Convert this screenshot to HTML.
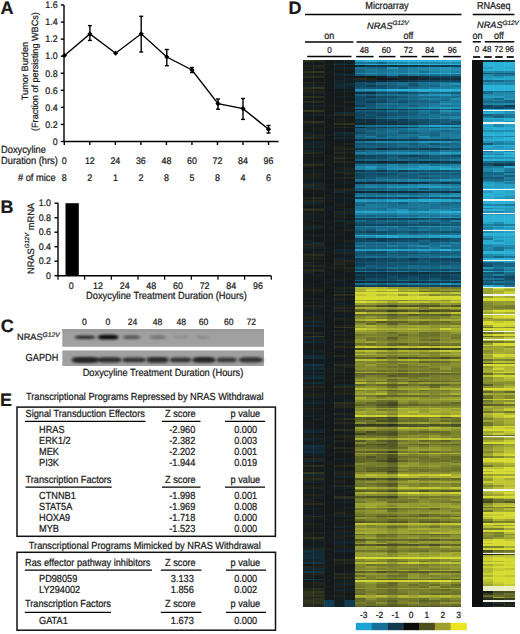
<!DOCTYPE html>
<html><head><meta charset="utf-8"><style>
html,body{margin:0;padding:0;background:#fff;width:520px;height:634px;overflow:hidden}
#hm div{position:absolute;top:60.0px;height:547.00px}
#hm .sp{width:0.6px;background:rgba(255,255,255,0.06)}
svg{position:absolute;left:0;top:0}
text{text-rendering:geometricPrecision;font-family:"Liberation Sans",sans-serif;fill:#1a1a1a;stroke:#1a1a1a;stroke-width:0.22px}
</style></head><body>
<div id="hm">
<div style="left:303.00px;width:11.00px;background:linear-gradient(#2c301d 0 1.8px,#141a1d 0 3.6px,#141b1d 0 5.4px,#1e221b 0 7.2px,#151919 0 9.0px,#1b1f1a 0 10.8px,#2f331d 0 12.6px,#191d1a 0 14.4px,#1e221b 0 16.2px,#282c1c 0 18.0px,#141b1e 0 19.8px,#141819 0 21.6px,#272b1c 0 23.4px,#1a1e1a 0 25.2px,#131f25 0 27.0px,#2a2e1d 0 28.8px,#1e221b 0 30.6px,#20241b 0 32.4px,#1d211b 0 34.2px,#141a1d 0 36.0px,#2a2e1d 0 37.8px,#1a1e1a 0 39.6px,#141a1c 0 41.4px,#2a2e1d 0 43.2px,#14191a 0 45.0px,#132228 0 46.8px,#171b1a 0 48.6px,#1b1f1a 0 50.4px,#32361e 0 52.2px,#171b19 0 54.0px,#131f24 0 55.8px,#131c20 0 57.6px,#141c1f 0 59.4px,#171b19 0 61.2px,#2b2f1d 0 63.0px,#1d211a 0 64.8px,#131c20 0 66.6px,#191d1a 0 68.4px,#1a1e1a 0 70.2px,#161a19 0 72.0px,#132026 0 73.8px,#1f231b 0 75.6px,#122731 0 77.4px,#2a2e1d 0 79.2px,#141a1c 0 81.0px,#13222a 0 82.8px,#13232a 0 84.6px,#1a1e1a 0 86.4px,#12262f 0 88.2px,#181c1a 0 90.0px,#13242b 0 91.8px,#25291c 0 93.6px,#151919 0 95.4px,#181c1a 0 97.2px,#171b19 0 99.0px,#161a19 0 100.8px,#131d20 0 102.6px,#1c201a 0 104.4px,#2d311d 0 106.2px,#1b1f1a 0 108.0px,#141819 0 109.8px,#131c20 0 111.6px,#14191b 0 113.4px,#1d211a 0 115.2px,#1f231b 0 117.0px,#1d211b 0 118.8px,#131e23 0 120.6px,#161a19 0 122.4px,#13232b 0 124.2px,#272b1c 0 126.0px,#122a36 0 127.8px,#1d211a 0 129.6px,#141819 0 131.4px,#14191b 0 133.2px,#141819 0 136.8px,#21251b 0 138.6px,#131d20 0 140.4px,#21251b 0 142.2px,#12262f 0 144.0px,#131e23 0 145.8px,#141819 0 147.6px,#22261b 0 149.4px,#2f331e 0 151.2px,#14191a 0 153.0px,#1d211a 0 154.8px,#131e22 0 156.6px,#132229 0 158.4px,#131f24 0 160.2px,#171b19 0 162.0px,#171b1a 0 163.8px,#141b1d 0 165.6px,#1e221b 0 167.4px,#12252e 0 169.2px,#171b1a 0 171.0px,#14191a 0 172.8px,#131e23 0 174.6px,#1c201a 0 176.4px,#131d21 0 178.2px,#141c1f 0 180.0px,#132229 0 181.8px,#12252e 0 183.6px,#282c1c 0 185.4px,#1f231b 0 187.2px,#13232b 0 189.0px,#131c20 0 190.8px,#14191b 0 192.6px,#1e221b 0 194.4px,#262a1c 0 196.2px,#1d211a 0 198.0px,#1f231b 0 199.8px,#181c1a 0 201.6px,#262a1c 0 203.4px,#132128 0 205.2px,#22261b 0 207.0px,#14191b 0 208.8px,#272b1c 0 210.6px,#20241b 0 212.4px,#1f231b 0 214.2px,#131c20 0 216.0px,#171b1a 0 217.8px,#141a1d 0 219.6px,#141819 0 223.2px,#161a19 0 225.0px,#131c20 0 227.0px,#1b1f1a 0 228.8px,#20241b 0 230.6px,#1c201a 0 232.4px,#161a19 0 234.2px,#141b1e 0 236.0px,#141a1d 0 237.8px,#132025 0 239.6px,#151919 0 241.4px,#181c1a 0 243.2px,#151919 0 245.0px,#23271c 0 246.8px,#131e23 0 248.6px,#14191b 0 250.4px,#131c20 0 252.2px,#131e23 0 254.0px,#131f24 0 255.8px,#1c201a 0 257.6px,#1e221b 0 259.4px,#181c1a 0 261.2px,#122730 0 263.0px,#191d1a 0 264.8px,#122a36 0 266.6px,#141b1e 0 268.4px,#1c201a 0 270.2px,#131d22 0 272.0px,#25291c 0 273.8px,#141819 0 275.6px,#2e321d 0 277.4px,#12242d 0 279.2px,#181c1a 0 281.0px,#122a36 0 282.8px,#141b1e 0 284.6px,#141819 0 286.4px,#141b1e 0 288.2px,#181c1a 0 290.0px,#132026 0 291.8px,#141c1f 0 293.6px,#131f25 0 295.4px,#122c39 0 297.2px,#112d3a 0 299.0px,#141819 0 300.8px,#131c20 0 302.6px,#191d1a 0 304.4px,#113343 0 306.2px,#12242d 0 308.0px,#122730 0 309.8px,#132025 0 311.6px,#122935 0 313.4px,#141b1e 0 315.2px,#12262f 0 317.0px,#112f3d 0 318.8px,#161a19 0 320.6px,#141b1e 0 322.4px,#122934 0 324.2px,#141b1e 0 326.0px,#22261b 0 327.8px,#1d211a 0 329.6px,#171b1a 0 331.4px,#141a1d 0 333.2px,#1c201a 0 335.0px,#1e221b 0 336.8px,#131f24 0 338.6px,#141819 0 340.4px,#132127 0 342.2px,#12242d 0 344.0px,#131d21 0 345.8px,#191d1a 0 347.6px,#21251b 0 349.4px,#1a1e1a 0 351.2px,#181c1a 0 353.0px,#141a1c 0 354.8px,#12252d 0 356.6px,#141819 0 358.4px,#141a1c 0 360.2px,#141a1b 0 362.0px,#1a1e1a 0 363.8px,#141b1e 0 365.6px,#14181a 0 367.4px,#141b1d 0 369.2px,#13232a 0 371.0px,#122a36 0 372.8px,#131d21 0 374.6px,#1d211b 0 376.4px,#191d1a 0 378.2px,#122731 0 380.0px,#132228 0 381.8px,#141a1c 0 383.6px,#161a19 0 385.4px,#113445 0 387.2px,#112f3d 0 389.0px,#12252d 0 390.8px,#112e3c 0 392.6px,#132228 0 394.4px,#131f25 0 396.2px,#151919 0 398.0px,#21251b 0 399.8px,#122731 0 401.6px,#131c20 0 403.4px,#191d1a 0 405.2px,#2a2e1d 0 407.0px,#131c20 0 408.8px,#1d211b 0 410.6px,#14191a 0 412.4px,#363a1f 0 414.2px,#13242c 0 416.0px,#1f231b 0 417.8px,#262a1c 0 419.6px,#22261b 0 421.4px,#12262f 0 423.2px,#141a1d 0 425.0px,#1b1f1a 0 426.8px,#1f231b 0 428.6px,#141a1c 0 430.4px,#131f24 0 432.2px,#161a19 0 434.0px,#21251b 0 435.8px,#181c1a 0 437.6px,#132229 0 439.4px,#1e221b 0 441.2px,#1d211b 0 443.0px,#262a1c 0 444.8px,#141b1d 0 446.6px,#151919 0 448.4px,#132026 0 450.2px,#14191a 0 452.0px,#141819 0 453.8px,#132127 0 455.6px,#23271c 0 457.4px,#1b1f1a 0 459.2px,#132127 0 461.0px,#171b1a 0 462.8px,#20241b 0 464.6px,#141b1d 0 466.4px,#1b1f1a 0 468.2px,#161a19 0 470.0px,#171b19 0 471.8px,#1b1f1a 0 473.6px,#1e221b 0 475.4px,#1a1e1a 0 477.2px,#2b2f1d 0 479.0px,#191d1a 0 480.8px,#131c20 0 482.6px,#141a1d 0 484.4px,#161a19 0 486.2px,#132127 0 488.0px,#20241b 0 489.8px,#113243 0 491.6px,#112d3a 0 493.4px,#122a36 0 495.2px,#112d3a 0 497.0px,#112e3b 0 498.8px,#122630 0 500.6px,#1c201a 0 502.4px,#103547 0 504.2px,#141819 0 506.0px,#24281c 0 507.8px,#122934 0 509.6px,#1e221b 0 511.4px,#10384c 0 513.2px,#1d211b 0 515.0px,#1b1f1a 0 516.8px,#131c20 0 518.6px,#103a4f 0 520.4px,#141b1e 0 522.2px,#1b1f1a 0 524.0px,#191d1a 0 525.8px,#181c1a 0 527.6px,#25291c 0 529.4px,#24281c 0 531.2px,#33371e 0 533.0px,#31351e 0 534.8px,#2d311d 0 536.6px,#22261b 0 538.4px,#2b2f1d 0 540.2px,#33371e 0 542.0px,#2e321d 0 543.8px,#282c1c 0 545.6px,#272b1c 0 547.0px)"></div>
<div style="left:313.40px;width:11.00px;background:linear-gradient(#22261b 0 1.8px,#151919 0 3.6px,#141b1e 0 5.4px,#262a1c 0 7.2px,#1e221b 0 9.0px,#151919 0 10.8px,#32361e 0 12.6px,#151919 0 14.4px,#1a1e1a 0 16.2px,#282c1c 0 18.0px,#14181a 0 19.8px,#161a19 0 21.6px,#22261b 0 23.4px,#181c1a 0 25.2px,#132229 0 27.0px,#31351e 0 28.8px,#1b1f1a 0 30.6px,#21251b 0 32.4px,#20241b 0 34.2px,#131c20 0 36.0px,#282c1c 0 37.8px,#141819 0 39.6px,#1a1e1a 0 41.4px,#282c1c 0 43.2px,#151919 0 45.0px,#12262e 0 46.8px,#171b1a 0 48.6px,#1a1e1a 0 50.4px,#2f331e 0 52.2px,#1a1e1a 0 54.0px,#13242c 0 55.8px,#14191a 0 59.4px,#14191b 0 61.2px,#2d311d 0 63.0px,#1a1e1a 0 64.8px,#14191b 0 66.6px,#1a1e1a 0 68.4px,#1b1f1a 0 70.2px,#1a1e1a 0 72.0px,#131d21 0 73.8px,#21251b 0 75.6px,#12262f 0 77.4px,#21251b 0 79.2px,#141a1b 0 81.0px,#122630 0 82.8px,#132127 0 84.6px,#1d211b 0 86.4px,#12252d 0 88.2px,#141c1f 0 90.0px,#132025 0 91.8px,#23271b 0 93.6px,#131e23 0 95.4px,#1a1e1a 0 97.2px,#14191b 0 99.0px,#151919 0 100.8px,#131f23 0 102.6px,#1d211a 0 104.4px,#272b1c 0 106.2px,#161a19 0 109.8px,#131f24 0 111.6px,#1a1e1a 0 113.4px,#1f231b 0 115.2px,#1c201a 0 117.0px,#1b1f1a 0 118.8px,#131d20 0 120.6px,#14181a 0 122.4px,#12252d 0 124.2px,#21251b 0 126.0px,#122732 0 127.8px,#21251b 0 129.6px,#141a1d 0 131.4px,#141b1d 0 133.2px,#161a19 0 135.0px,#14191a 0 136.8px,#25291c 0 138.6px,#131e23 0 140.4px,#23271b 0 142.2px,#12262f 0 144.0px,#131f24 0 145.8px,#14191b 0 147.6px,#22261b 0 149.4px,#282c1c 0 151.2px,#171b19 0 153.0px,#181c1a 0 154.8px,#141c1f 0 156.6px,#131e23 0 158.4px,#141b1e 0 160.2px,#1a1e1a 0 162.0px,#151919 0 163.8px,#131e22 0 165.6px,#23271b 0 167.4px,#13232b 0 169.2px,#161a19 0 171.0px,#141819 0 172.8px,#131d20 0 174.6px,#21251b 0 176.4px,#131e23 0 178.2px,#14191b 0 180.0px,#141819 0 181.8px,#122b37 0 183.6px,#24281c 0 185.4px,#21251b 0 187.2px,#132026 0 189.0px,#141a1c 0 190.8px,#132128 0 192.6px,#1d211a 0 194.4px,#282c1c 0 196.2px,#1a1e1a 0 198.0px,#1c201a 0 199.8px,#161a19 0 201.6px,#1d211b 0 203.4px,#141a1c 0 205.2px,#24281c 0 207.0px,#141b1d 0 208.8px,#292d1d 0 210.6px,#24281c 0 212.4px,#141a1c 0 214.2px,#132026 0 216.0px,#191d1a 0 217.8px,#181c1a 0 219.6px,#141b1e 0 221.4px,#14191b 0 223.2px,#161a19 0 225.0px,#14191b 0 227.0px,#191d1a 0 228.8px,#20241b 0 230.6px,#1e221b 0 232.4px,#171b19 0 234.2px,#131e23 0 236.0px,#141819 0 237.8px,#131f24 0 239.6px,#141a1c 0 241.4px,#1a1e1a 0 243.2px,#131d21 0 245.0px,#21251b 0 246.8px,#132127 0 248.6px,#191d1a 0 250.4px,#131f24 0 252.2px,#131d21 0 254.0px,#13222a 0 255.8px,#1c201a 0 257.6px,#1e221b 0 259.4px,#1b1f1a 0 261.2px,#122934 0 263.0px,#181c1a 0 264.8px,#122934 0 266.6px,#141b1e 0 268.4px,#141819 0 270.2px,#141b1e 0 272.0px,#21251b 0 273.8px,#1a1e1a 0 275.6px,#363a1f 0 277.4px,#12252d 0 279.2px,#1b1f1a 0 281.0px,#122731 0 282.8px,#131e22 0 284.6px,#171b1a 0 286.4px,#161a19 0 288.2px,#181c1a 0 290.0px,#132128 0 291.8px,#131e22 0 295.4px,#122b38 0 297.2px,#122c38 0 299.0px,#141c1f 0 300.8px,#131d21 0 302.6px,#151919 0 304.4px,#113343 0 306.2px,#13242c 0 308.0px,#122832 0 309.8px,#131d21 0 311.6px,#112d3a 0 313.4px,#131f25 0 315.2px,#122731 0 317.0px,#113140 0 318.8px,#191d1a 0 320.6px,#131d21 0 322.4px,#112f3d 0 324.2px,#131f25 0 326.0px,#23271b 0 327.8px,#171b1a 0 329.6px,#1c201a 0 331.4px,#151919 0 333.2px,#1c201a 0 335.0px,#1d211b 0 336.8px,#131f24 0 338.6px,#141819 0 340.4px,#132025 0 342.2px,#13242c 0 344.0px,#141c1f 0 345.8px,#161a19 0 347.6px,#1e221b 0 349.4px,#171b1a 0 353.0px,#141b1e 0 354.8px,#131f23 0 356.6px,#141819 0 358.4px,#1c201a 0 360.2px,#14191a 0 362.0px,#141819 0 363.8px,#131d21 0 365.6px,#141819 0 367.4px,#131d21 0 369.2px,#13232b 0 371.0px,#122731 0 372.8px,#141819 0 374.6px,#1e221b 0 376.4px,#1a1e1a 0 378.2px,#122630 0 380.0px,#131f24 0 381.8px,#1b1f1a 0 383.6px,#181c1a 0 385.4px,#113242 0 387.2px,#122832 0 389.0px,#122731 0 390.8px,#112d3b 0 392.6px,#13242b 0 394.4px,#132026 0 396.2px,#181c1a 0 398.0px,#22261b 0 399.8px,#122832 0 401.6px,#141a1b 0 403.4px,#151919 0 405.2px,#2b2f1d 0 407.0px,#141b1d 0 408.8px,#181c1a 0 410.6px,#14191b 0 412.4px,#2e321d 0 414.2px,#122832 0 416.0px,#1d211a 0 417.8px,#282c1c 0 419.6px,#21251b 0 421.4px,#132128 0 423.2px,#14191b 0 425.0px,#1b1f1a 0 426.8px,#23271c 0 428.6px,#132025 0 430.4px,#141c1f 0 432.2px,#131c20 0 434.0px,#21251b 0 435.8px,#1b1f1a 0 437.6px,#12252e 0 439.4px,#14191b 0 441.2px,#191d1a 0 443.0px,#25291c 0 444.8px,#151919 0 446.6px,#14181a 0 448.4px,#132228 0 450.2px,#161a19 0 452.0px,#131d21 0 453.8px,#131f24 0 455.6px,#282c1c 0 457.4px,#1a1e1a 0 459.2px,#141c1f 0 461.0px,#14191b 0 462.8px,#1b1f1a 0 464.6px,#141c1f 0 466.4px,#181c1a 0 468.2px,#131d21 0 470.0px,#151919 0 471.8px,#1d211a 0 473.6px,#14191b 0 475.4px,#171b1a 0 477.2px,#2f331e 0 479.0px,#1b1f1a 0 480.8px,#131f24 0 482.6px,#131e22 0 484.4px,#131d21 0 486.2px,#132127 0 488.0px,#24281c 0 489.8px,#112d3a 0 491.6px,#122832 0 493.4px,#122a36 0 495.2px,#122a35 0 497.0px,#122b37 0 498.8px,#122730 0 500.6px,#22261b 0 502.4px,#103749 0 504.2px,#1a1e1a 0 506.0px,#1f231b 0 507.8px,#122832 0 509.6px,#1d211a 0 511.4px,#103547 0 513.2px,#22261b 0 515.0px,#1a1e1a 0 516.8px,#141a1d 0 518.6px,#103548 0 520.4px,#131e22 0 522.2px,#23271b 0 524.0px,#1e221b 0 525.8px,#171b1a 0 527.6px,#2d311d 0 529.4px,#262a1c 0 531.2px,#32361e 0 533.0px,#292d1c 0 534.8px,#31351e 0 536.6px,#23271b 0 538.4px,#30341e 0 540.2px,#2f331e 0 542.0px,#31351e 0 543.8px,#23271b 0 545.6px,#24281c 0 547.0px)"></div>
<div style="left:323.80px;width:11.00px;background:linear-gradient(#151919 0 1.8px,#14191a 0 3.6px,#171b1a 0 5.4px,#141a1c 0 9.0px,#14191b 0 10.8px,#141b1e 0 12.6px,#181c1a 0 14.4px,#141a1c 0 16.2px,#151919 0 18.0px,#141819 0 19.8px,#14191a 0 21.6px,#141b1e 0 23.4px,#141a1c 0 25.2px,#14191b 0 27.0px,#161a19 0 28.8px,#141819 0 30.6px,#141a1c 0 32.4px,#141b1e 0 34.2px,#151919 0 36.0px,#14191a 0 37.8px,#131d21 0 39.6px,#141819 0 41.4px,#141a1c 0 43.2px,#161a19 0 45.0px,#181c1a 0 46.8px,#14191b 0 48.6px,#141a1d 0 50.4px,#151919 0 52.2px,#14191b 0 54.0px,#191d1a 0 55.8px,#171b19 0 57.6px,#161a19 0 59.4px,#14191b 0 61.2px,#161a19 0 63.0px,#14191b 0 64.8px,#181c1a 0 66.6px,#141b1e 0 68.4px,#141819 0 70.2px,#141a1b 0 72.0px,#14191b 0 73.8px,#1b1f1a 0 75.6px,#141819 0 77.4px,#14191a 0 79.2px,#141819 0 81.0px,#171b1a 0 82.8px,#14191b 0 84.6px,#161a19 0 86.4px,#171b19 0 88.2px,#14191b 0 90.0px,#14191a 0 91.8px,#14191b 0 93.6px,#141a1d 0 95.4px,#181c1a 0 97.2px,#141a1c 0 99.0px,#191d1a 0 100.8px,#171b1a 0 102.6px,#14191b 0 104.4px,#171b19 0 106.2px,#14191b 0 109.8px,#161a19 0 111.6px,#141819 0 113.4px,#161a19 0 115.2px,#14191b 0 117.0px,#141c1f 0 118.8px,#14181a 0 120.6px,#14191b 0 122.4px,#14181a 0 124.2px,#171b19 0 126.0px,#141819 0 127.8px,#161a19 0 129.6px,#191d1a 0 131.4px,#141c1f 0 133.2px,#141b1e 0 135.0px,#171b19 0 136.8px,#131f24 0 138.6px,#141a1d 0 140.4px,#191d1a 0 142.2px,#141a1c 0 144.0px,#151919 0 145.8px,#131e23 0 147.6px,#131d21 0 151.2px,#151919 0 153.0px,#14191a 0 154.8px,#14191b 0 156.6px,#161a19 0 158.4px,#151919 0 160.2px,#171b19 0 163.8px,#141a1c 0 165.6px,#171b1a 0 167.4px,#181c1a 0 169.2px,#141a1c 0 171.0px,#141819 0 172.8px,#141c1f 0 174.6px,#131d21 0 176.4px,#161a19 0 178.2px,#14191b 0 180.0px,#141b1e 0 181.8px,#14181a 0 183.6px,#141819 0 185.4px,#151919 0 187.2px,#131d21 0 189.0px,#141a1c 0 190.8px,#181c1a 0 192.6px,#141a1c 0 194.4px,#171b19 0 196.2px,#14191b 0 198.0px,#161a19 0 199.8px,#141819 0 201.6px,#171b1a 0 203.4px,#141b1d 0 205.2px,#191d1a 0 207.0px,#1a1e1a 0 208.8px,#141a1c 0 210.6px,#191d1a 0 212.4px,#141b1d 0 214.2px,#171b1a 0 216.0px,#141819 0 217.8px,#141c1f 0 219.6px,#14191a 0 221.4px,#131e22 0 223.2px,#141a1c 0 225.0px,#141b1e 0 227.0px,#181c1a 0 228.8px,#141a1c 0 230.6px,#14191a 0 232.4px,#141819 0 234.2px,#171b19 0 236.0px,#141a1d 0 237.8px,#141a1c 0 239.6px,#131c20 0 241.4px,#161a19 0 243.2px,#141a1c 0 245.0px,#181c1a 0 246.8px,#14191b 0 248.6px,#141a1d 0 250.4px,#141c1f 0 252.2px,#151919 0 254.0px,#14191b 0 255.8px,#131d20 0 257.6px,#141b1e 0 259.4px,#141a1c 0 264.8px,#141b1e 0 266.6px,#14191a 0 268.4px,#141819 0 270.2px,#131d21 0 272.0px,#141819 0 273.8px,#14191b 0 275.6px,#14191a 0 277.4px,#141819 0 279.2px,#171b19 0 281.0px,#141a1d 0 282.8px,#141c1f 0 284.6px,#141819 0 286.4px,#141a1c 0 288.2px,#151919 0 290.0px,#141819 0 291.8px,#1a1e1a 0 293.6px,#151919 0 295.4px,#171b19 0 297.2px,#131c20 0 299.0px,#14191a 0 300.8px,#141b1e 0 302.6px,#14191a 0 304.4px,#14181a 0 306.2px,#141a1d 0 308.0px,#1a1e1a 0 309.8px,#171b19 0 311.6px,#131e22 0 313.4px,#141a1d 0 315.2px,#161a19 0 317.0px,#171b1a 0 318.8px,#141a1b 0 320.6px,#161a19 0 322.4px,#151919 0 324.2px,#141819 0 326.0px,#161a19 0 327.8px,#141819 0 329.6px,#14181a 0 331.4px,#151919 0 333.2px,#141a1c 0 335.0px,#151919 0 336.8px,#141819 0 338.6px,#141a1d 0 340.4px,#141b1e 0 342.2px,#181c1a 0 344.0px,#14191b 0 345.8px,#151919 0 347.6px,#141a1d 0 349.4px,#151919 0 351.2px,#14191a 0 353.0px,#141b1d 0 354.8px,#141c1f 0 356.6px,#171b19 0 358.4px,#14191a 0 360.2px,#141b1e 0 362.0px,#161a19 0 363.8px,#14181a 0 367.4px,#151919 0 369.2px,#1a1e1a 0 371.0px,#131d20 0 372.8px,#141a1b 0 374.6px,#141a1c 0 376.4px,#181c1a 0 380.0px,#131d21 0 381.8px,#141a1b 0 383.6px,#171b1a 0 385.4px,#181c1a 0 387.2px,#171b1a 0 389.0px,#14181a 0 390.8px,#151919 0 392.6px,#141a1c 0 394.4px,#141a1d 0 396.2px,#141819 0 399.8px,#171b1a 0 401.6px,#14181a 0 403.4px,#191d1a 0 405.2px,#141819 0 407.0px,#161a19 0 408.8px,#141b1e 0 412.4px,#14191a 0 416.0px,#151919 0 417.8px,#14191b 0 419.6px,#151919 0 423.2px,#141819 0 425.0px,#131c20 0 426.8px,#14191a 0 428.6px,#161a19 0 432.2px,#141b1e 0 434.0px,#161a19 0 435.8px,#141819 0 437.6px,#131c20 0 439.4px,#141819 0 441.2px,#161a19 0 443.0px,#14191a 0 444.8px,#161a19 0 448.4px,#14191a 0 450.2px,#161a19 0 452.0px,#141a1b 0 453.8px,#181c1a 0 455.6px,#141b1d 0 457.4px,#161a19 0 459.2px,#141b1e 0 461.0px,#161a19 0 462.8px,#141819 0 464.6px,#141b1e 0 466.4px,#141b1d 0 468.2px,#14191a 0 470.0px,#141b1d 0 471.8px,#171b1a 0 473.6px,#14181a 0 475.4px,#141b1e 0 479.0px,#161a19 0 480.8px,#141a1c 0 482.6px,#141b1e 0 484.4px,#141819 0 488.0px,#191d1a 0 489.8px,#14191a 0 491.6px,#141819 0 493.4px,#141b1e 0 495.2px,#151919 0 498.8px,#131c20 0 500.6px,#161a19 0 502.4px,#141a1c 0 504.2px,#141c1f 0 506.0px,#171b1a 0 507.8px,#141a1c 0 509.6px,#141a1d 0 511.4px,#14191a 0 513.2px,#141819 0 515.0px,#141a1d 0 516.8px,#151919 0 518.6px,#14191b 0 520.4px,#161a19 0 522.2px,#141a1b 0 524.0px,#141a1c 0 525.8px,#1a1e1a 0 527.6px,#14191b 0 529.4px,#14191a 0 531.2px,#181c1a 0 533.0px,#14191b 0 534.8px,#181c1a 0 536.6px,#151919 0 538.4px,#161a19 0 540.2px,#103d54 0 547.0px)"></div>
<div style="left:334.20px;width:11.00px;background:linear-gradient(#131e23 0 1.8px,#131f24 0 3.6px,#112f3d 0 5.4px,#171b1a 0 7.2px,#13232b 0 9.0px,#1a1e1a 0 10.8px,#14191b 0 12.6px,#122731 0 14.4px,#13242b 0 16.2px,#181c1a 0 18.0px,#131f25 0 19.8px,#12252d 0 21.6px,#132229 0 23.4px,#122833 0 25.2px,#122a36 0 27.0px,#13242c 0 28.8px,#141819 0 30.6px,#132229 0 32.4px,#161a19 0 34.2px,#14191a 0 36.0px,#131f24 0 37.8px,#151919 0 39.6px,#14191b 0 41.4px,#171b1a 0 43.2px,#141b1e 0 45.0px,#1a1e1a 0 46.8px,#141b1d 0 48.6px,#151919 0 50.4px,#161a19 0 52.2px,#122b38 0 54.0px,#262a1c 0 55.8px,#14191b 0 57.6px,#1b1f1a 0 59.4px,#1a1e1a 0 61.2px,#1b1f1a 0 63.0px,#2a2e1d 0 64.8px,#141a1c 0 66.6px,#20241b 0 68.4px,#141a1b 0 72.0px,#122832 0 73.8px,#13242c 0 75.6px,#161a19 0 77.4px,#122730 0 79.2px,#141b1e 0 81.0px,#141819 0 82.8px,#1a1e1a 0 84.6px,#131c20 0 86.4px,#1e221b 0 88.2px,#21251b 0 90.0px,#1b1f1a 0 91.8px,#24281c 0 93.6px,#141819 0 95.4px,#1a1e1a 0 97.2px,#272b1c 0 99.0px,#1a1e1a 0 100.8px,#22261b 0 102.6px,#151919 0 104.4px,#14191a 0 106.2px,#131e22 0 108.0px,#1a1e1a 0 109.8px,#132128 0 111.6px,#24281c 0 113.4px,#191d1a 0 115.2px,#141b1d 0 117.0px,#1f231b 0 118.8px,#141819 0 120.6px,#131d21 0 122.4px,#131e23 0 124.2px,#14191b 0 126.0px,#14191a 0 127.8px,#1e221b 0 129.6px,#262a1c 0 131.4px,#122b37 0 133.2px,#141a1c 0 135.0px,#141b1e 0 136.8px,#131f23 0 138.6px,#141b1d 0 142.2px,#141c1f 0 144.0px,#1c201a 0 145.8px,#171b1a 0 147.6px,#1f231b 0 149.4px,#131c20 0 151.2px,#23271b 0 153.0px,#13242b 0 154.8px,#1d211a 0 156.6px,#1b1f1a 0 158.4px,#141b1e 0 160.2px,#12262f 0 162.0px,#161a19 0 163.8px,#131f24 0 165.6px,#141c1f 0 167.4px,#141819 0 169.2px,#1a1e1a 0 171.0px,#131d21 0 172.8px,#171b19 0 174.6px,#131c20 0 176.4px,#141a1c 0 178.2px,#141a1d 0 180.0px,#181c1a 0 181.8px,#141b1e 0 183.6px,#131f24 0 187.2px,#151919 0 189.0px,#12262f 0 190.8px,#132229 0 192.6px,#22261b 0 194.4px,#131d21 0 196.2px,#141c1f 0 198.0px,#12262f 0 199.8px,#21251b 0 201.6px,#20241b 0 203.4px,#22261b 0 205.2px,#1a1e1a 0 207.0px,#1d211b 0 208.8px,#191d1a 0 210.6px,#161a19 0 212.4px,#14191b 0 214.2px,#161a19 0 216.0px,#141b1e 0 217.8px,#1b1f1a 0 219.6px,#13242b 0 221.4px,#131d20 0 223.2px,#131d21 0 227.0px,#20241b 0 228.8px,#131f24 0 230.6px,#25291c 0 232.4px,#131e23 0 234.2px,#292d1d 0 236.0px,#141a1c 0 237.8px,#1e221b 0 239.6px,#1c201a 0 241.4px,#141b1e 0 243.2px,#132228 0 245.0px,#1b1f1a 0 246.8px,#25291c 0 248.6px,#131e23 0 250.4px,#22261b 0 252.2px,#141819 0 254.0px,#141b1e 0 257.6px,#22261b 0 259.4px,#1d211b 0 261.2px,#141819 0 264.8px,#1e221b 0 266.6px,#30341e 0 268.4px,#141819 0 270.2px,#20241b 0 272.0px,#131d20 0 273.8px,#21251b 0 275.6px,#141a1c 0 277.4px,#1a1e1a 0 279.2px,#191d1a 0 281.0px,#22261b 0 282.8px,#131d21 0 284.6px,#1d211a 0 286.4px,#24281c 0 288.2px,#181c1a 0 290.0px,#141a1d 0 291.8px,#141819 0 293.6px,#161a19 0 295.4px,#24281c 0 297.2px,#141a1d 0 299.0px,#14181a 0 300.8px,#1a1e1a 0 302.6px,#161a19 0 304.4px,#282c1c 0 306.2px,#181c1a 0 308.0px,#1d211a 0 309.8px,#132228 0 311.6px,#23271b 0 313.4px,#151919 0 315.2px,#1c201a 0 317.0px,#151919 0 318.8px,#181c1a 0 320.6px,#1d211b 0 322.4px,#14191a 0 324.2px,#132128 0 326.0px,#282c1c 0 327.8px,#191d1a 0 329.6px,#1b1f1a 0 331.4px,#1c201a 0 333.2px,#20241b 0 335.0px,#141c1f 0 336.8px,#132025 0 338.6px,#141a1c 0 340.4px,#131d21 0 342.2px,#2b2f1d 0 344.0px,#24281c 0 345.8px,#23271c 0 347.6px,#1a1e1a 0 349.4px,#131c20 0 351.2px,#141a1c 0 353.0px,#23271b 0 354.8px,#131e22 0 356.6px,#14191b 0 358.4px,#24281c 0 360.2px,#191d1a 0 362.0px,#23271c 0 363.8px,#181c1a 0 365.6px,#161a19 0 367.4px,#181c1a 0 369.2px,#2b2f1d 0 371.0px,#171b19 0 372.8px,#141c1f 0 374.6px,#20241b 0 376.4px,#21251b 0 378.2px,#141819 0 380.0px,#22261b 0 381.8px,#141a1d 0 383.6px,#14191b 0 385.4px,#141b1e 0 387.2px,#262a1c 0 389.0px,#141a1c 0 390.8px,#1e221b 0 392.6px,#141a1b 0 394.4px,#171b19 0 396.2px,#141a1c 0 398.0px,#132229 0 399.8px,#14191b 0 401.6px,#141a1c 0 403.4px,#14191a 0 405.2px,#22261b 0 407.0px,#181c1a 0 408.8px,#131d21 0 410.6px,#20241b 0 414.2px,#1d211a 0 416.0px,#12262f 0 417.8px,#191d1a 0 419.6px,#1e221b 0 421.4px,#1f231b 0 423.2px,#141c1f 0 425.0px,#24281c 0 426.8px,#131f24 0 428.6px,#131e22 0 430.4px,#141819 0 432.2px,#141c1f 0 434.0px,#171b19 0 435.8px,#282c1c 0 437.6px,#262a1c 0 439.4px,#141a1d 0 441.2px,#132127 0 443.0px,#151919 0 444.8px,#141a1c 0 446.6px,#141c1f 0 448.4px,#161a19 0 450.2px,#191d1a 0 452.0px,#23271b 0 453.8px,#1d211b 0 455.6px,#12262e 0 457.4px,#14191b 0 459.2px,#191d1a 0 461.0px,#141c1f 0 464.6px,#191d1a 0 466.4px,#12262f 0 468.2px,#161a19 0 470.0px,#1d211b 0 471.8px,#132229 0 473.6px,#132026 0 475.4px,#1f231b 0 477.2px,#1d211b 0 479.0px,#131d21 0 480.8px,#13242b 0 482.6px,#13222a 0 484.4px,#132025 0 486.2px,#1c201a 0 488.0px,#131f24 0 489.8px,#12242d 0 491.6px,#131f23 0 493.4px,#141a1c 0 495.2px,#141b1e 0 497.0px,#141a1c 0 498.8px,#262a1c 0 500.6px,#132025 0 502.4px,#1e221b 0 504.2px,#191d1a 0 506.0px,#151919 0 511.4px,#141b1d 0 513.2px,#272b1c 0 515.0px,#1c201a 0 516.8px,#24281c 0 518.6px,#141a1c 0 520.4px,#132127 0 522.2px,#1c201a 0 524.0px,#13232a 0 525.8px,#1b1f1a 0 527.6px,#171b19 0 529.4px,#122630 0 531.2px,#1a1e1a 0 533.0px,#171b19 0 534.8px,#1e221b 0 536.6px,#141c1f 0 540.2px,#132026 0 547.0px)"></div>
<div style="left:344.60px;width:11.00px;background:linear-gradient(#132026 0 1.8px,#131e22 0 3.6px,#112d3b 0 5.4px,#141a1b 0 7.2px,#13242c 0 9.0px,#181c1a 0 10.8px,#14191b 0 12.6px,#12252e 0 14.4px,#122a36 0 16.2px,#151919 0 18.0px,#13242c 0 19.8px,#131f23 0 21.6px,#131e22 0 23.4px,#112e3b 0 25.2px,#122731 0 27.0px,#132229 0 28.8px,#141b1d 0 30.6px,#13242c 0 32.4px,#141a1c 0 34.2px,#14191b 0 36.0px,#131f24 0 37.8px,#14191b 0 39.6px,#141b1e 0 41.4px,#20241b 0 43.2px,#141a1c 0 45.0px,#171b19 0 46.8px,#132229 0 48.6px,#1a1e1a 0 50.4px,#191d1a 0 52.2px,#122b38 0 54.0px,#282c1c 0 55.8px,#14181a 0 57.6px,#151919 0 59.4px,#161a19 0 61.2px,#191d1a 0 63.0px,#31351e 0 64.8px,#141b1e 0 66.6px,#23271c 0 68.4px,#141b1e 0 70.2px,#151919 0 72.0px,#122c38 0 73.8px,#12262f 0 75.6px,#131d20 0 77.4px,#12252d 0 79.2px,#141c1f 0 81.0px,#151919 0 82.8px,#1d211a 0 84.6px,#141a1c 0 86.4px,#1a1e1a 0 88.2px,#21251b 0 90.0px,#181c1a 0 91.8px,#1d211b 0 93.6px,#171b19 0 95.4px,#181c1a 0 97.2px,#1f231b 0 99.0px,#141819 0 100.8px,#21251b 0 102.6px,#131d20 0 104.4px,#171b1a 0 106.2px,#131c20 0 108.0px,#1f231b 0 109.8px,#132128 0 111.6px,#22261b 0 113.4px,#21251b 0 115.2px,#131e22 0 117.0px,#23271b 0 118.8px,#141819 0 120.6px,#141c1f 0 122.4px,#131f25 0 124.2px,#141a1c 0 126.0px,#14191a 0 127.8px,#20241b 0 129.6px,#292d1d 0 131.4px,#132128 0 133.2px,#132026 0 135.0px,#151919 0 136.8px,#132025 0 138.6px,#132026 0 140.4px,#141b1e 0 142.2px,#181c1a 0 144.0px,#191d1a 0 145.8px,#14181a 0 147.6px,#1d211b 0 149.4px,#132128 0 151.2px,#1e221b 0 153.0px,#132228 0 154.8px,#151919 0 156.6px,#1f231b 0 158.4px,#14181a 0 160.2px,#12252e 0 162.0px,#1e221b 0 163.8px,#131d21 0 167.4px,#131c20 0 169.2px,#23271b 0 171.0px,#14191a 0 172.8px,#151919 0 174.6px,#131e23 0 176.4px,#151919 0 178.2px,#141b1e 0 180.0px,#20241b 0 181.8px,#131f25 0 183.6px,#132127 0 185.4px,#132229 0 187.2px,#171b19 0 189.0px,#122630 0 192.6px,#24281c 0 194.4px,#131f24 0 196.2px,#131d21 0 198.0px,#132228 0 199.8px,#24281c 0 201.6px,#1a1e1a 0 203.4px,#1d211b 0 205.2px,#161a19 0 207.0px,#23271c 0 208.8px,#191d1a 0 210.6px,#22261b 0 212.4px,#141c1f 0 214.2px,#14191a 0 216.0px,#141a1c 0 217.8px,#181c1a 0 219.6px,#141b1e 0 221.4px,#14191a 0 223.2px,#131d21 0 225.0px,#131e23 0 227.0px,#22261b 0 228.8px,#131d21 0 230.6px,#24281c 0 232.4px,#141b1d 0 234.2px,#282c1c 0 236.0px,#141b1e 0 237.8px,#1c201a 0 239.6px,#171b1a 0 241.4px,#141b1d 0 243.2px,#131e23 0 245.0px,#1c201a 0 246.8px,#1f231b 0 248.6px,#161a19 0 250.4px,#23271c 0 252.2px,#141c1f 0 255.8px,#131f24 0 257.6px,#1d211a 0 259.4px,#1b1f1a 0 263.0px,#161a19 0 264.8px,#1f231b 0 266.6px,#31351e 0 268.4px,#181c1a 0 272.0px,#132128 0 273.8px,#1c201a 0 275.6px,#151919 0 277.4px,#191d1a 0 279.2px,#1c201a 0 281.0px,#25291c 0 282.8px,#132127 0 284.6px,#141819 0 286.4px,#25291c 0 288.2px,#151919 0 290.0px,#131e22 0 291.8px,#191d1a 0 293.6px,#171b19 0 295.4px,#1e221b 0 297.2px,#141a1d 0 299.0px,#181c1a 0 300.8px,#1a1e1a 0 302.6px,#131d22 0 304.4px,#282c1c 0 306.2px,#1f231b 0 308.0px,#151919 0 309.8px,#141b1e 0 311.6px,#1c201a 0 313.4px,#141b1e 0 315.2px,#161a19 0 317.0px,#141819 0 318.8px,#191d1a 0 322.4px,#141819 0 324.2px,#122833 0 326.0px,#292d1d 0 327.8px,#1a1e1a 0 329.6px,#22261b 0 331.4px,#1c201a 0 333.2px,#24281c 0 335.0px,#141c1f 0 338.6px,#191d1a 0 340.4px,#132025 0 342.2px,#2b2f1d 0 344.0px,#20241b 0 345.8px,#25291c 0 347.6px,#151919 0 349.4px,#141c1f 0 351.2px,#141b1d 0 353.0px,#20241b 0 354.8px,#132026 0 356.6px,#141b1e 0 358.4px,#2a2e1d 0 360.2px,#181c1a 0 362.0px,#25291c 0 363.8px,#1a1e1a 0 365.6px,#1b1f1a 0 367.4px,#141a1d 0 369.2px,#292d1d 0 371.0px,#1b1f1a 0 372.8px,#131d21 0 374.6px,#24281c 0 376.4px,#21251b 0 378.2px,#1b1f1a 0 380.0px,#1e221b 0 381.8px,#141819 0 383.6px,#181c1a 0 385.4px,#141819 0 387.2px,#22261b 0 389.0px,#1a1e1a 0 390.8px,#20241b 0 392.6px,#161a19 0 394.4px,#191d1a 0 396.2px,#171b19 0 398.0px,#131c20 0 399.8px,#131e23 0 401.6px,#141c1f 0 403.4px,#1d211a 0 405.2px,#23271b 0 407.0px,#14181a 0 408.8px,#141b1e 0 410.6px,#20241b 0 412.4px,#21251b 0 414.2px,#1c201a 0 416.0px,#12262f 0 417.8px,#161a19 0 419.6px,#151919 0 421.4px,#171b1a 0 423.2px,#141819 0 425.0px,#262a1c 0 426.8px,#132228 0 428.6px,#141819 0 430.4px,#1c201a 0 432.2px,#131f23 0 434.0px,#141819 0 435.8px,#2b2f1d 0 437.6px,#2c301d 0 439.4px,#141a1d 0 441.2px,#13232a 0 443.0px,#141819 0 444.8px,#14191b 0 446.6px,#132228 0 448.4px,#191d1a 0 450.2px,#1b1f1a 0 452.0px,#181c1a 0 453.8px,#1d211b 0 455.6px,#13242c 0 457.4px,#141b1e 0 459.2px,#1e221b 0 461.0px,#14191a 0 462.8px,#14181a 0 464.6px,#1e221b 0 466.4px,#132026 0 468.2px,#141c1f 0 470.0px,#1d211a 0 471.8px,#132229 0 473.6px,#131e22 0 475.4px,#20241b 0 477.2px,#191d1a 0 479.0px,#131e23 0 480.8px,#13242c 0 482.6px,#13222a 0 484.4px,#141b1d 0 486.2px,#1c201a 0 488.0px,#132128 0 489.8px,#12262f 0 491.6px,#141b1e 0 493.4px,#141819 0 495.2px,#141a1d 0 497.0px,#131d20 0 498.8px,#25291c 0 500.6px,#132025 0 502.4px,#21251b 0 504.2px,#161a19 0 506.0px,#14191b 0 507.8px,#141c1f 0 509.6px,#14191a 0 511.4px,#132026 0 513.2px,#23271b 0 515.0px,#1e221b 0 516.8px,#24281c 0 518.6px,#141819 0 520.4px,#132229 0 522.2px,#1c201a 0 524.0px,#13242c 0 525.8px,#171b1a 0 527.6px,#1e221b 0 529.4px,#132229 0 531.2px,#181c1a 0 533.0px,#141819 0 534.8px,#171b1a 0 536.6px,#151919 0 538.4px,#141b1e 0 540.2px,#103d54 0 547.0px)"></div>
<div style="left:355.00px;width:11.23px;background:linear-gradient(#26a3c7 0 1.8px,#1a7293 0 3.6px,#259dc1 0 5.4px,#122732 0 7.2px,#1a7494 0 9.0px,#186785 0 10.8px,#176482 0 12.6px,#1f86a8 0 14.4px,#155c79 0 16.2px,#141a1c 0 18.0px,#282c1c 0 19.8px,#122833 0 21.6px,#114c66 0 23.4px,#114a64 0 25.2px,#114c66 0 27.0px,#145571 0 28.8px,#218fb1 0 30.6px,#196d8c 0 32.4px,#113343 0 34.2px,#165f7c 0 36.0px,#104761 0 37.8px,#114a65 0 39.6px,#114963 0 41.4px,#114c66 0 43.2px,#124f6b 0 45.0px,#0f3e56 0 46.8px,#186a89 0 48.6px,#122730 0 50.4px,#145874 0 52.2px,#114b65 0 54.0px,#10445d 0 55.8px,#114c66 0 57.6px,#124d67 0 59.4px,#11303f 0 61.2px,#113344 0 63.0px,#122833 0 64.8px,#186887 0 66.6px,#122c38 0 68.4px,#145975 0 70.2px,#135570 0 72.0px,#114964 0 73.8px,#176583 0 75.6px,#196d8c 0 77.4px,#176381 0 79.2px,#113446 0 81.0px,#19708f 0 82.8px,#135571 0 84.6px,#165e7c 0 86.4px,#16607e 0 88.2px,#103547 0 90.0px,#155d7a 0 91.8px,#1d80a1 0 93.6px,#176381 0 95.4px,#103b50 0 97.2px,#104660 0 99.0px,#165f7c 0 100.8px,#112d3b 0 102.6px,#114862 0 104.4px,#196c8b 0 106.2px,#1f87a9 0 108.0px,#1e83a5 0 109.8px,#10374a 0 111.6px,#165f7c 0 113.4px,#114963 0 115.2px,#104761 0 117.0px,#124d68 0 118.8px,#1a7393 0 120.6px,#16607d 0 122.4px,#122b38 0 124.2px,#196c8b 0 126.0px,#1d7c9d 0 127.8px,#145874 0 129.6px,#186786 0 131.4px,#122730 0 133.2px,#196d8c 0 135.0px,#1d7d9e 0 136.8px,#0f3f56 0 138.6px,#2396ba 0 140.4px,#259ec3 0 142.2px,#196d8d 0 144.0px,#176380 0 145.8px,#1b7797 0 147.6px,#1a7393 0 149.4px,#1d7d9e 0 151.2px,#27a6cb 0 153.0px,#1e80a1 0 154.8px,#176684 0 156.6px,#1d7c9d 0 158.4px,#104761 0 160.2px,#186b8a 0 162.0px,#12506c 0 163.8px,#114964 0 165.6px,#1b7797 0 167.4px,#186887 0 169.2px,#16617f 0 171.0px,#124d68 0 172.8px,#176482 0 174.6px,#28a9ce 0 176.4px,#1e81a3 0 178.2px,#10455e 0 180.0px,#114964 0 181.8px,#186886 0 183.6px,#155c79 0 185.4px,#1c7899 0 187.2px,#145975 0 189.0px,#249bbf 0 190.8px,#155b78 0 192.6px,#12506c 0 194.4px,#145672 0 196.2px,#186786 0 198.0px,#0f3f57 0 201.6px,#124f6a 0 203.4px,#10445e 0 205.2px,#114b66 0 207.0px,#176584 0 208.8px,#10455e 0 210.6px,#1b7898 0 212.4px,#122c39 0 214.2px,#0f4058 0 216.0px,#113140 0 217.8px,#10394e 0 219.6px,#165f7c 0 221.4px,#122a36 0 223.2px,#196f8f 0 225.0px,#103a4f 0 227.0px,#afb632 0 228.8px,#acb332 0 230.6px,#9ea632 0 232.4px,#d6dc32 0 234.2px,#bfc532 0 236.0px,#d6dc32 0 239.6px,#a4ac32 0 241.4px,#d6dc32 0 243.2px,#9aa132 0 245.0px,#5e6427 0 246.8px,#a6ad32 0 248.6px,#626728 0 250.4px,#5a5f26 0 252.2px,#c2c932 0 254.0px,#656a28 0 255.8px,#80872f 0 257.6px,#81892f 0 259.4px,#a5ad32 0 261.2px,#666b28 0 263.0px,#889031 0 264.8px,#9fa732 0 266.6px,#8c9432 0 268.4px,#c6cc32 0 270.2px,#a1a932 0 272.0px,#889031 0 273.8px,#6f752b 0 275.6px,#7e852e 0 277.4px,#7d842e 0 279.2px,#8e9632 0 281.0px,#929a32 0 282.8px,#6d732a 0 284.6px,#767d2c 0 286.4px,#c4ca32 0 288.2px,#3e4220 0 290.0px,#b3ba32 0 291.8px,#899131 0 293.6px,#b8bf32 0 295.4px,#80882f 0 297.2px,#636828 0 299.0px,#bcc332 0 300.8px,#7c832e 0 302.6px,#8c9331 0 304.4px,#848c30 0 306.2px,#80872f 0 308.0px,#889031 0 309.8px,#72782b 0 311.6px,#a4ab32 0 313.4px,#616627 0 315.2px,#666b29 0 317.0px,#7b822e 0 318.8px,#949c32 0 320.6px,#71772b 0 322.4px,#b5bc32 0 324.2px,#5e6327 0 326.0px,#838a2f 0 327.8px,#b6bd32 0 329.6px,#787e2d 0 331.4px,#929a32 0 333.2px,#9ca332 0 335.0px,#787e2d 0 336.8px,#a8b032 0 338.6px,#9da532 0 340.4px,#858d30 0 342.2px,#73792c 0 344.0px,#5d6226 0 345.8px,#79802d 0 347.6px,#929a32 0 349.4px,#858c30 0 351.2px,#a4ab32 0 353.0px,#98a032 0 354.8px,#d1d732 0 356.6px,#565b25 0 358.4px,#5d6226 0 360.2px,#676d29 0 362.0px,#899031 0 363.8px,#35391e 0 365.6px,#484c22 0 367.4px,#99a132 0 369.2px,#82892f 0 371.0px,#626728 0 372.8px,#434721 0 374.6px,#6b712a 0 376.4px,#777d2d 0 378.2px,#a7ae32 0 380.0px,#525624 0 381.8px,#838b30 0 383.6px,#5e6327 0 385.4px,#565a25 0 387.2px,#72782b 0 389.0px,#7f862e 0 390.8px,#616627 0 392.6px,#8f9732 0 394.4px,#757c2c 0 396.2px,#626728 0 398.0px,#5f6427 0 401.6px,#616727 0 403.4px,#838a2f 0 405.2px,#6f752b 0 407.0px,#71772b 0 408.8px,#6f762b 0 410.6px,#626828 0 412.4px,#7f862e 0 414.2px,#a5ad32 0 416.0px,#a6ae32 0 417.8px,#505523 0 419.6px,#6f752b 0 421.4px,#7b822e 0 423.2px,#72792b 0 425.0px,#6d732a 0 426.8px,#bbc232 0 428.6px,#7d842e 0 430.4px,#575c25 0 432.2px,#a3aa32 0 434.0px,#889031 0 435.8px,#595e26 0 437.6px,#71772b 0 439.4px,#828a2f 0 441.2px,#73792c 0 443.0px,#9aa232 0 444.8px,#929a32 0 446.6px,#9ba232 0 448.4px,#6e752b 0 450.2px,#868e30 0 452.0px,#7d842e 0 453.8px,#71772b 0 455.6px,#5c6126 0 457.4px,#909832 0 459.2px,#686e29 0 461.0px,#515524 0 462.8px,#bcc332 0 464.6px,#889031 0 466.4px,#899031 0 468.2px,#a1a832 0 470.0px,#919932 0 471.8px,#a6ae32 0 473.6px,#626728 0 475.4px,#889031 0 477.2px,#8e9632 0 479.0px,#535824 0 480.8px,#79802d 0 482.6px,#8d9532 0 484.4px,#4e5223 0 486.2px,#929a32 0 488.0px,#8e9632 0 489.8px,#6d732a 0 491.6px,#929932 0 493.4px,#979f32 0 495.2px,#969e32 0 497.0px,#d6dc32 0 498.8px,#858d30 0 500.6px,#747b2c 0 502.4px,#b0b732 0 504.2px,#81892f 0 506.0px,#80882f 0 507.8px,#81882f 0 509.6px,#979e32 0 511.4px,#595e26 0 513.2px,#8b9231 0 515.0px,#686e29 0 516.8px,#949b32 0 518.6px,#626728 0 520.4px,#d0d632 0 522.2px,#838b30 0 524.0px,#79802d 0 525.8px,#757b2c 0 527.6px,#8b9331 0 529.4px,#676d29 0 531.2px,#70762b 0 533.0px,#636828 0 534.8px,#adb432 0 536.6px,#9ba332 0 538.4px,#626828 0 540.2px,#696f29 0 542.0px,#777d2c 0 543.8px,#696f29 0 545.6px,#5a5f26 0 547.0px)"></div>
<div style="left:365.63px;width:11.23px;background:linear-gradient(#2ab2d8 0 1.8px,#1b7798 0 3.6px,#29afd4 0 5.4px,#103547 0 7.2px,#196f8f 0 9.0px,#1b7898 0 10.8px,#1a7292 0 12.6px,#249abe 0 14.4px,#186886 0 16.2px,#14191a 0 18.0px,#20241b 0 19.8px,#122a35 0 21.6px,#0f3f57 0 23.4px,#135470 0 25.2px,#0f3f57 0 27.0px,#135470 0 28.8px,#2398bb 0 30.6px,#176381 0 32.4px,#113140 0 34.2px,#155d7a 0 36.0px,#103d53 0 37.8px,#13536f 0 39.6px,#104761 0 41.4px,#0f3f56 0 43.2px,#13536f 0 45.0px,#13546f 0 46.8px,#155d7a 0 48.6px,#113445 0 50.4px,#145976 0 52.2px,#104861 0 54.0px,#13526d 0 55.8px,#114963 0 57.6px,#145672 0 59.4px,#112d3a 0 61.2px,#112f3e 0 63.0px,#112e3b 0 64.8px,#196c8b 0 66.6px,#10455e 0 68.4px,#13516c 0 70.2px,#186786 0 72.0px,#145874 0 73.8px,#155d7b 0 75.6px,#1e80a2 0 77.4px,#186987 0 79.2px,#11303f 0 81.0px,#1d7d9e 0 82.8px,#135570 0 84.6px,#145773 0 86.4px,#176583 0 88.2px,#0f3f57 0 90.0px,#186b8a 0 91.8px,#1c799a 0 93.6px,#1a7090 0 95.4px,#10445d 0 97.2px,#114963 0 99.0px,#186988 0 100.8px,#113242 0 102.6px,#0f415a 0 104.4px,#1a7393 0 106.2px,#249abe 0 108.0px,#2290b3 0 109.8px,#114862 0 111.6px,#155d7a 0 113.4px,#12506b 0 115.2px,#13536e 0 117.0px,#145874 0 118.8px,#186b8a 0 120.6px,#155b78 0 122.4px,#122c39 0 124.2px,#1b7898 0 126.0px,#2089ab 0 127.8px,#16607e 0 129.6px,#196b8a 0 131.4px,#112d3a 0 133.2px,#186886 0 135.0px,#1b7696 0 136.8px,#0f435c 0 138.6px,#208cae 0 140.4px,#249abe 0 142.2px,#186886 0 144.0px,#1d7d9e 0 145.8px,#1d7c9d 0 147.6px,#1a7292 0 149.4px,#1d7d9e 0 151.2px,#27a7cc 0 153.0px,#1d7fa1 0 154.8px,#165f7c 0 156.6px,#1d80a1 0 158.4px,#10455e 0 160.2px,#145976 0 162.0px,#145874 0 163.8px,#104660 0 165.6px,#1f85a6 0 167.4px,#176685 0 169.2px,#155a76 0 171.0px,#0f4058 0 172.8px,#16607d 0 174.6px,#27a5ca 0 176.4px,#1f87a9 0 178.2px,#103c53 0 180.0px,#114862 0 181.8px,#196c8c 0 183.6px,#16617e 0 185.4px,#186988 0 187.2px,#166280 0 189.0px,#2396ba 0 190.8px,#12506b 0 192.6px,#10445e 0 194.4px,#145874 0 196.2px,#1a7090 0 198.0px,#0f3d54 0 199.8px,#10445e 0 201.6px,#145773 0 203.4px,#114b66 0 205.2px,#16607d 0 207.0px,#155a77 0 208.8px,#10455f 0 210.6px,#1a7292 0 212.4px,#113140 0 214.2px,#0f3f58 0 216.0px,#10384c 0 217.8px,#114b65 0 219.6px,#135571 0 221.4px,#113242 0 223.2px,#1b7495 0 225.0px,#0f4058 0 227.0px,#b0b732 0 228.8px,#cfd532 0 230.6px,#bac132 0 232.4px,#d6dc32 0 234.2px,#d3d932 0 236.0px,#d6dc32 0 239.6px,#9aa132 0 241.4px,#cfd532 0 243.2px,#949c32 0 245.0px,#666c29 0 246.8px,#a5ad32 0 248.6px,#80872f 0 250.4px,#575c25 0 252.2px,#a5ad32 0 254.0px,#6a702a 0 255.8px,#939b32 0 257.6px,#81882f 0 259.4px,#b4bb32 0 261.2px,#73792c 0 263.0px,#636928 0 264.8px,#b1b832 0 266.6px,#98a032 0 268.4px,#bbc232 0 270.2px,#99a132 0 272.0px,#899131 0 273.8px,#7c832e 0 275.6px,#8b9331 0 277.4px,#71772b 0 279.2px,#6e742a 0 281.0px,#9fa632 0 282.8px,#686e29 0 284.6px,#696f29 0 286.4px,#cfd532 0 288.2px,#424621 0 290.0px,#bac132 0 291.8px,#979f32 0 293.6px,#a3ab32 0 295.4px,#838a2f 0 297.2px,#626828 0 299.0px,#b9c032 0 300.8px,#81882f 0 302.6px,#7a812d 0 304.4px,#99a032 0 306.2px,#858d30 0 308.0px,#81882f 0 309.8px,#787f2d 0 311.6px,#a4ac32 0 313.4px,#5b6026 0 315.2px,#7a812d 0 317.0px,#878e30 0 318.8px,#858d30 0 320.6px,#686e29 0 322.4px,#949b32 0 324.2px,#6f752b 0 326.0px,#8d9532 0 327.8px,#afb732 0 329.6px,#82892f 0 331.4px,#858d30 0 333.2px,#a8af32 0 335.0px,#72792b 0 336.8px,#8e9632 0 338.6px,#9fa632 0 340.4px,#858d30 0 342.2px,#5f6527 0 344.0px,#696e29 0 345.8px,#7b822d 0 347.6px,#a1a832 0 349.4px,#939b32 0 351.2px,#9aa232 0 353.0px,#8c9432 0 354.8px,#c8ce32 0 356.6px,#5b6026 0 358.4px,#515524 0 360.2px,#6c722a 0 362.0px,#6e742a 0 363.8px,#35391e 0 365.6px,#515624 0 367.4px,#9ea632 0 369.2px,#899131 0 371.0px,#484c22 0 372.8px,#575c25 0 374.6px,#6a702a 0 376.4px,#71772b 0 378.2px,#acb432 0 380.0px,#73792c 0 381.8px,#6c722a 0 383.6px,#505523 0 385.4px,#666c29 0 387.2px,#6a702a 0 389.0px,#82892f 0 390.8px,#575c25 0 392.6px,#9ba332 0 394.4px,#72782b 0 396.2px,#525624 0 398.0px,#5e6327 0 399.8px,#626828 0 401.6px,#777e2d 0 403.4px,#7a802d 0 405.2px,#737a2c 0 407.0px,#606627 0 408.8px,#626728 0 410.6px,#535824 0 412.4px,#868d30 0 414.2px,#bbc232 0 416.0px,#a5ac32 0 417.8px,#454921 0 419.6px,#6d732a 0 421.4px,#8a9231 0 423.2px,#6b712a 0 425.0px,#797f2d 0 426.8px,#acb332 0 428.6px,#777e2d 0 430.4px,#5f6427 0 432.2px,#b4bb32 0 434.0px,#858c30 0 435.8px,#525624 0 437.6px,#81882f 0 439.4px,#82892f 0 441.2px,#878f30 0 443.0px,#a1a932 0 444.8px,#9fa732 0 446.6px,#abb332 0 448.4px,#7d842e 0 450.2px,#8e9632 0 452.0px,#8c9432 0 453.8px,#79802d 0 455.6px,#72782b 0 457.4px,#878e30 0 459.2px,#757c2c 0 461.0px,#5b6026 0 462.8px,#b9c032 0 464.6px,#777e2d 0 466.4px,#838a2f 0 468.2px,#a0a832 0 470.0px,#9ba232 0 471.8px,#a8af32 0 473.6px,#777e2d 0 475.4px,#8a9131 0 477.2px,#a2a932 0 479.0px,#646a28 0 480.8px,#9ea632 0 484.4px,#585d25 0 486.2px,#919932 0 488.0px,#8d9532 0 489.8px,#72792b 0 491.6px,#8f9732 0 493.4px,#9ca432 0 495.2px,#939b32 0 497.0px,#d6dc32 0 498.8px,#959d32 0 500.6px,#6f752b 0 502.4px,#c1c732 0 504.2px,#6e752b 0 506.0px,#949c32 0 507.8px,#878e30 0 509.6px,#a3ab32 0 511.4px,#666c29 0 513.2px,#929a32 0 515.0px,#7d842e 0 516.8px,#7a802d 0 518.6px,#72782b 0 520.4px,#d0d632 0 522.2px,#919932 0 524.0px,#81882f 0 525.8px,#828a2f 0 527.6px,#8a9231 0 529.4px,#7d852e 0 531.2px,#767c2c 0 533.0px,#80872f 0 534.8px,#9fa632 0 536.6px,#a7af32 0 538.4px,#878f30 0 540.2px,#757c2c 0 542.0px,#696f29 0 543.8px,#6b712a 0 545.6px,#434721 0 547.0px)"></div>
<div style="left:376.26px;width:11.23px;background:linear-gradient(#28aad0 0 1.8px,#176685 0 3.6px,#27a7cc 0 5.4px,#113242 0 7.2px,#186886 0 9.0px,#1a7393 0 10.8px,#1b7696 0 12.6px,#1d80a1 0 14.4px,#186988 0 16.2px,#13232b 0 18.0px,#141819 0 19.8px,#122a36 0 21.6px,#165f7d 0 23.4px,#186785 0 25.2px,#124e69 0 27.0px,#12506b 0 28.8px,#26a3c8 0 30.6px,#1a7393 0 32.4px,#104761 0 34.2px,#196d8c 0 36.0px,#124d68 0 37.8px,#145571 0 39.6px,#124e69 0 41.4px,#114a65 0 43.2px,#196e8d 0 45.0px,#176482 0 46.8px,#196e8e 0 48.6px,#112d3b 0 50.4px,#155e7b 0 52.2px,#124e69 0 54.0px,#10435d 0 55.8px,#145672 0 57.6px,#16617e 0 59.4px,#0f3e56 0 61.2px,#103a4f 0 63.0px,#10384b 0 64.8px,#1b7697 0 66.6px,#103b50 0 68.4px,#16617f 0 70.2px,#176684 0 72.0px,#186886 0 73.8px,#16607d 0 75.6px,#145976 0 77.4px,#196e8e 0 79.2px,#103547 0 81.0px,#2089ab 0 82.8px,#155a76 0 84.6px,#145874 0 86.4px,#166280 0 88.2px,#112d3b 0 90.0px,#186988 0 91.8px,#1f88aa 0 93.6px,#176482 0 95.4px,#114b66 0 97.2px,#124f6a 0 99.0px,#176381 0 100.8px,#122732 0 102.6px,#10455e 0 104.4px,#196e8d 0 106.2px,#1e82a3 0 108.0px,#1b7596 0 109.8px,#103b51 0 111.6px,#176684 0 113.4px,#114862 0 115.2px,#13526d 0 117.0px,#176685 0 118.8px,#1c7999 0 120.6px,#155d7a 0 122.4px,#113141 0 124.2px,#1a7090 0 126.0px,#1e80a2 0 127.8px,#176482 0 129.6px,#186a89 0 131.4px,#122934 0 133.2px,#186785 0 135.0px,#1d7fa0 0 136.8px,#104660 0 138.6px,#218eb1 0 140.4px,#2293b6 0 142.2px,#196d8c 0 144.0px,#1c799a 0 145.8px,#1c7c9d 0 147.6px,#186b8a 0 149.4px,#1b7797 0 151.2px,#26a3c8 0 153.0px,#1c7a9b 0 154.8px,#186887 0 156.6px,#1f84a6 0 158.4px,#103c53 0 160.2px,#176685 0 162.0px,#155d7a 0 163.8px,#114863 0 165.6px,#1f86a8 0 167.4px,#196d8c 0 169.2px,#1c7899 0 171.0px,#114862 0 172.8px,#155c79 0 174.6px,#2ab0d6 0 176.4px,#2499bd 0 178.2px,#0f3d54 0 180.0px,#0f3e56 0 181.8px,#1a7191 0 183.6px,#155c79 0 185.4px,#196e8e 0 187.2px,#166280 0 189.0px,#259ec3 0 190.8px,#124d67 0 192.6px,#12506b 0 194.4px,#145773 0 196.2px,#196e8e 0 198.0px,#0f425c 0 199.8px,#114a65 0 201.6px,#13526e 0 203.4px,#135470 0 205.2px,#145672 0 207.0px,#16617f 0 208.8px,#0f3e55 0 210.6px,#186887 0 212.4px,#113040 0 214.2px,#0f3d54 0 216.0px,#103b50 0 217.8px,#104761 0 219.6px,#155c79 0 221.4px,#113344 0 223.2px,#176583 0 225.0px,#103c52 0 227.0px,#b0b732 0 228.8px,#cad032 0 230.6px,#9ba332 0 232.4px,#d6dc32 0 234.2px,#b6bc32 0 236.0px,#d6dc32 0 239.6px,#8b9331 0 241.4px,#c0c732 0 243.2px,#888f31 0 245.0px,#4c5123 0 246.8px,#9ba332 0 248.6px,#72792c 0 250.4px,#5a5f26 0 252.2px,#a8af32 0 254.0px,#686e29 0 255.8px,#858d30 0 257.6px,#757b2c 0 259.4px,#bfc632 0 261.2px,#525624 0 263.0px,#767d2c 0 264.8px,#99a032 0 266.6px,#949c32 0 268.4px,#a9b032 0 270.2px,#8f9732 0 272.0px,#7c822e 0 273.8px,#777e2d 0 275.6px,#828a2f 0 277.4px,#787f2d 0 279.2px,#777e2d 0 281.0px,#889031 0 282.8px,#7b822e 0 284.6px,#70762b 0 286.4px,#bcc232 0 288.2px,#3f4320 0 290.0px,#aeb632 0 291.8px,#7b822e 0 293.6px,#a2a932 0 295.4px,#8a9131 0 297.2px,#505523 0 299.0px,#aab132 0 300.8px,#72792b 0 302.6px,#8f9732 0 304.4px,#7c832e 0 306.2px,#7b822e 0 308.0px,#838b2f 0 309.8px,#6c722a 0 311.6px,#949c32 0 313.4px,#5f6427 0 315.2px,#73792c 0 317.0px,#7e852e 0 318.8px,#899131 0 320.6px,#6f752b 0 322.4px,#aab132 0 324.2px,#656a28 0 326.0px,#889031 0 327.8px,#a0a832 0 329.6px,#73792c 0 331.4px,#929a32 0 333.2px,#b3ba32 0 335.0px,#626728 0 336.8px,#81882f 0 338.6px,#a3aa32 0 340.4px,#6c722a 0 342.2px,#5e6327 0 344.0px,#505423 0 345.8px,#676d29 0 347.6px,#949c32 0 349.4px,#73792c 0 351.2px,#a1a932 0 353.0px,#8b9331 0 354.8px,#cfd532 0 356.6px,#474b21 0 358.4px,#5c6126 0 360.2px,#494d22 0 362.0px,#7d842e 0 363.8px,#373b1f 0 365.6px,#494d22 0 367.4px,#8d9532 0 369.2px,#787e2d 0 371.0px,#5a5f26 0 372.8px,#525724 0 374.6px,#616627 0 376.4px,#7a802d 0 378.2px,#9fa632 0 380.0px,#5a5f26 0 381.8px,#70762b 0 383.6px,#444821 0 385.4px,#5c6126 0 387.2px,#666b28 0 389.0px,#7f872f 0 390.8px,#555a25 0 392.6px,#888f31 0 394.4px,#636828 0 398.0px,#606627 0 399.8px,#4c5023 0 401.6px,#757c2c 0 403.4px,#71772b 0 405.2px,#7a812d 0 407.0px,#5e6327 0 408.8px,#5b6026 0 410.6px,#595e26 0 412.4px,#858c30 0 414.2px,#afb632 0 416.0px,#a3aa32 0 417.8px,#545924 0 419.6px,#79802d 0 421.4px,#828a2f 0 423.2px,#616627 0 425.0px,#6a702a 0 426.8px,#a0a732 0 428.6px,#7c832e 0 430.4px,#5a5f26 0 432.2px,#a6ad32 0 434.0px,#858c30 0 435.8px,#505423 0 437.6px,#777e2d 0 439.4px,#6e742a 0 441.2px,#8d9532 0 443.0px,#9fa632 0 444.8px,#919932 0 446.6px,#9aa232 0 448.4px,#747b2c 0 450.2px,#929a32 0 452.0px,#8b9331 0 453.8px,#6a702a 0 455.6px,#595e26 0 457.4px,#767d2c 0 459.2px,#737a2c 0 461.0px,#626728 0 462.8px,#b2b932 0 464.6px,#8a9231 0 466.4px,#828a2f 0 468.2px,#939a32 0 470.0px,#9ba232 0 471.8px,#9ca432 0 473.6px,#656b28 0 475.4px,#6d732a 0 477.2px,#858d30 0 479.0px,#636928 0 480.8px,#7b812d 0 482.6px,#a3aa32 0 484.4px,#494d22 0 486.2px,#9aa232 0 488.0px,#858d30 0 489.8px,#6e742a 0 491.6px,#8d9432 0 493.4px,#a2aa32 0 495.2px,#939b32 0 497.0px,#d6dc32 0 498.8px,#848c30 0 500.6px,#7d842e 0 502.4px,#bbc232 0 504.2px,#6f762b 0 506.0px,#899131 0 507.8px,#7b822e 0 509.6px,#9fa732 0 511.4px,#4c5022 0 513.2px,#8e9632 0 515.0px,#7e852e 0 516.8px,#8b9231 0 518.6px,#555a25 0 520.4px,#cfd632 0 522.2px,#7d842e 0 524.0px,#6c722a 0 525.8px,#686d29 0 527.6px,#8c9432 0 529.4px,#71782b 0 531.2px,#757b2c 0 533.0px,#696f29 0 534.8px,#b3ba32 0 536.6px,#9aa232 0 538.4px,#73792c 0 540.2px,#6d742a 0 542.0px,#868e30 0 543.8px,#6c722a 0 545.6px,#4b4f22 0 547.0px)"></div>
<div style="left:386.89px;width:11.23px;background:linear-gradient(#2ab2d8 0 1.8px,#1e81a2 0 3.6px,#28aacf 0 5.4px,#113140 0 7.2px,#2293b7 0 9.0px,#1c7a9b 0 10.8px,#1d7e9f 0 12.6px,#208bae 0 14.4px,#1d7c9d 0 16.2px,#10374a 0 18.0px,#14191b 0 19.8px,#10374a 0 21.6px,#176381 0 23.4px,#176584 0 25.2px,#155b77 0 27.0px,#155d7a 0 28.8px,#2ab2d8 0 30.6px,#1d7c9d 0 32.4px,#12506b 0 34.2px,#1a7090 0 36.0px,#12506b 0 37.8px,#165f7c 0 39.6px,#176380 0 41.4px,#145874 0 43.2px,#1a7292 0 45.0px,#176584 0 46.8px,#196f8f 0 48.6px,#0f3e55 0 50.4px,#196e8e 0 52.2px,#145874 0 54.0px,#13516c 0 55.8px,#176482 0 57.6px,#196c8b 0 59.4px,#114963 0 61.2px,#103648 0 63.0px,#113546 0 64.8px,#1c7b9c 0 66.6px,#104761 0 68.4px,#186a89 0 70.2px,#1b7494 0 72.0px,#196c8c 0 73.8px,#186a89 0 75.6px,#1b7797 0 77.4px,#196f8f 0 79.2px,#103c53 0 81.0px,#1f86a8 0 82.8px,#165f7d 0 84.6px,#176280 0 86.4px,#16617e 0 88.2px,#0f3f56 0 90.0px,#1a7292 0 91.8px,#218eb1 0 93.6px,#1a7190 0 95.4px,#145571 0 97.2px,#16617f 0 99.0px,#176481 0 100.8px,#113140 0 102.6px,#10455e 0 104.4px,#1f86a8 0 106.2px,#218caf 0 108.0px,#2293b6 0 109.8px,#13526d 0 111.6px,#186887 0 113.4px,#12506c 0 115.2px,#155c78 0 117.0px,#16617e 0 118.8px,#1d7e9f 0 120.6px,#196d8c 0 122.4px,#113546 0 124.2px,#1c7b9c 0 126.0px,#2291b4 0 127.8px,#196c8c 0 129.6px,#1a7191 0 131.4px,#113040 0 133.2px,#186b8a 0 135.0px,#1e83a5 0 136.8px,#124e69 0 138.6px,#2293b6 0 140.4px,#26a3c8 0 142.2px,#196c8b 0 144.0px,#1a7292 0 145.8px,#19708f 0 147.6px,#1d7d9e 0 149.4px,#2088aa 0 151.2px,#259fc3 0 153.0px,#1d7e9f 0 154.8px,#186786 0 156.6px,#1f87a9 0 158.4px,#0f435c 0 160.2px,#196f8e 0 162.0px,#145672 0 163.8px,#104660 0 165.6px,#208cae 0 167.4px,#196e8e 0 169.2px,#186785 0 171.0px,#13536f 0 172.8px,#176482 0 174.6px,#28acd1 0 176.4px,#27a5ca 0 178.2px,#0f435c 0 180.0px,#114a64 0 181.8px,#196c8b 0 183.6px,#16607e 0 185.4px,#1d80a1 0 187.2px,#166280 0 189.0px,#27a6cb 0 190.8px,#176583 0 192.6px,#13536f 0 194.4px,#176482 0 196.2px,#196c8b 0 198.0px,#114963 0 199.8px,#10455f 0 201.6px,#16617f 0 203.4px,#145773 0 205.2px,#145672 0 207.0px,#196f8f 0 208.8px,#114c66 0 210.6px,#1b7494 0 212.4px,#103547 0 214.2px,#0f435c 0 216.0px,#114b66 0 217.8px,#114963 0 219.6px,#13526e 0 221.4px,#10384b 0 223.2px,#1a7292 0 225.0px,#0f3f57 0 227.0px,#9aa132 0 228.8px,#cfd632 0 230.6px,#a5ac32 0 232.4px,#d6dc32 0 234.2px,#c2c932 0 236.0px,#d6dc32 0 239.6px,#899031 0 241.4px,#a7ae32 0 243.2px,#79802d 0 245.0px,#404420 0 246.8px,#909832 0 248.6px,#72792c 0 250.4px,#3c4020 0 252.2px,#98a032 0 254.0px,#555925 0 255.8px,#6c722a 0 257.6px,#6a7029 0 259.4px,#8f9732 0 261.2px,#585d25 0 263.0px,#585c25 0 264.8px,#888f31 0 266.6px,#8a9231 0 268.4px,#a5ac32 0 270.2px,#8f9732 0 272.0px,#6a702a 0 273.8px,#777e2d 0 275.6px,#757b2c 0 277.4px,#575b25 0 279.2px,#6c712a 0 281.0px,#7f862e 0 282.8px,#5f6427 0 284.6px,#585d25 0 286.4px,#b5bb32 0 288.2px,#35391e 0 290.0px,#949c32 0 291.8px,#7a812d 0 293.6px,#949c32 0 295.4px,#71782b 0 297.2px,#5f6427 0 299.0px,#8f9732 0 300.8px,#6a702a 0 302.6px,#787e2d 0 304.4px,#7f862e 0 306.2px,#6c722a 0 308.0px,#7d842e 0 309.8px,#6e742b 0 311.6px,#8e9632 0 313.4px,#616627 0 315.2px,#585c25 0 317.0px,#7d842e 0 318.8px,#666c29 0 320.6px,#656b28 0 322.4px,#82892f 0 324.2px,#545824 0 326.0px,#6a702a 0 327.8px,#8f9732 0 329.6px,#5c6126 0 331.4px,#71772b 0 333.2px,#7e852e 0 335.0px,#5f6427 0 336.8px,#909832 0 338.6px,#979f32 0 340.4px,#666c29 0 342.2px,#4b4f22 0 344.0px,#424621 0 345.8px,#5d6327 0 347.6px,#919932 0 349.4px,#79802d 0 351.2px,#8f9732 0 353.0px,#80872f 0 354.8px,#aab132 0 356.6px,#404420 0 358.4px,#484c22 0 360.2px,#454921 0 362.0px,#70762b 0 363.8px,#2b2f1d 0 365.6px,#444821 0 367.4px,#868d30 0 369.2px,#72782b 0 371.0px,#505423 0 372.8px,#4a4e22 0 374.6px,#555a25 0 376.4px,#6c722a 0 378.2px,#909832 0 380.0px,#4d5123 0 381.8px,#565b25 0 383.6px,#505423 0 385.4px,#535724 0 387.2px,#595d25 0 389.0px,#7a812d 0 390.8px,#3a3e1f 0 392.6px,#8a9231 0 394.4px,#4d5223 0 396.2px,#4a4e22 0 398.0px,#3f4320 0 399.8px,#393d1f 0 401.6px,#555a25 0 403.4px,#656a28 0 405.2px,#6b712a 0 407.0px,#4f5423 0 408.8px,#555a25 0 410.6px,#3e4220 0 412.4px,#606527 0 414.2px,#a4ab32 0 416.0px,#979e32 0 417.8px,#424621 0 419.6px,#646a28 0 421.4px,#757c2c 0 423.2px,#525724 0 425.0px,#5a5f26 0 426.8px,#919932 0 428.6px,#6f762b 0 430.4px,#464a21 0 432.2px,#9ea532 0 434.0px,#767d2c 0 435.8px,#414521 0 437.6px,#646928 0 439.4px,#73792c 0 441.2px,#686e29 0 443.0px,#909832 0 444.8px,#80872f 0 446.6px,#9aa132 0 448.4px,#5d6227 0 450.2px,#6b712a 0 452.0px,#838b2f 0 453.8px,#6e742a 0 455.6px,#4b4f22 0 457.4px,#838a2f 0 459.2px,#636928 0 461.0px,#515524 0 462.8px,#abb232 0 464.6px,#7a812d 0 466.4px,#656b28 0 468.2px,#828a2f 0 470.0px,#8b9331 0 471.8px,#8e9632 0 473.6px,#636928 0 475.4px,#70762b 0 477.2px,#868d30 0 479.0px,#606527 0 480.8px,#899131 0 482.6px,#6c732a 0 484.4px,#484c22 0 486.2px,#787f2d 0 488.0px,#747b2c 0 489.8px,#616627 0 491.6px,#6e742a 0 493.4px,#868d30 0 495.2px,#888f31 0 497.0px,#d6dc32 0 498.8px,#72792b 0 500.6px,#6a6f29 0 502.4px,#99a132 0 504.2px,#71772b 0 506.0px,#7e852e 0 509.6px,#868e30 0 511.4px,#5c6126 0 513.2px,#838a2f 0 515.0px,#696f29 0 516.8px,#7d842e 0 518.6px,#535724 0 520.4px,#ccd232 0 522.2px,#636928 0 525.8px,#6c722a 0 527.6px,#7e852e 0 529.4px,#646928 0 531.2px,#686e29 0 533.0px,#696f29 0 534.8px,#979f32 0 536.6px,#8a9231 0 538.4px,#6c722a 0 540.2px,#595e26 0 542.0px,#686e29 0 543.8px,#595e26 0 545.6px,#4e5223 0 547.0px)"></div>
<div style="left:397.52px;width:11.23px;background:linear-gradient(#2ab2d8 0 1.8px,#1f85a7 0 3.6px,#2ab2d8 0 5.4px,#113546 0 7.2px,#1c7899 0 9.0px,#1c7c9d 0 10.8px,#1b7696 0 12.6px,#2499bc 0 14.4px,#176684 0 16.2px,#122833 0 18.0px,#12252d 0 19.8px,#113344 0 21.6px,#186887 0 23.4px,#1a7494 0 25.2px,#176482 0 27.0px,#145773 0 28.8px,#2ab2d8 0 30.6px,#1c7a9b 0 32.4px,#104761 0 34.2px,#1a7393 0 36.0px,#155a76 0 37.8px,#186786 0 39.6px,#145976 0 41.4px,#12506b 0 43.2px,#186988 0 45.0px,#186b8a 0 46.8px,#1c7a9a 0 48.6px,#103b51 0 50.4px,#165f7d 0 52.2px,#13526d 0 54.0px,#155a77 0 55.8px,#176583 0 57.6px,#186a89 0 59.4px,#0f4058 0 61.2px,#10435d 0 63.0px,#10384b 0 64.8px,#1d80a1 0 66.6px,#103b50 0 68.4px,#1a7292 0 70.2px,#196c8b 0 72.0px,#155a76 0 73.8px,#1a7190 0 75.6px,#1c7999 0 77.4px,#1a7191 0 79.2px,#0f3e55 0 81.0px,#2088ab 0 82.8px,#176684 0 84.6px,#1a7190 0 86.4px,#176684 0 88.2px,#0f3f57 0 90.0px,#1a7393 0 91.8px,#218fb1 0 93.6px,#1b7595 0 95.4px,#114963 0 97.2px,#145773 0 99.0px,#196d8d 0 100.8px,#122b37 0 102.6px,#114a65 0 104.4px,#1c7b9c 0 106.2px,#208aac 0 108.0px,#2397ba 0 109.8px,#0f3e55 0 111.6px,#176785 0 113.4px,#165f7c 0 115.2px,#145773 0 117.0px,#16607e 0 118.8px,#1d7d9e 0 120.6px,#1b7595 0 122.4px,#122b37 0 124.2px,#1b7697 0 126.0px,#2397bb 0 127.8px,#196e8e 0 129.6px,#186887 0 131.4px,#112d3a 0 133.2px,#186b8a 0 135.0px,#218eb1 0 136.8px,#10435d 0 138.6px,#2293b6 0 140.4px,#27a8cd 0 142.2px,#155a76 0 144.0px,#196d8d 0 145.8px,#1b7697 0 147.6px,#196e8d 0 149.4px,#2395b8 0 151.2px,#28a9ce 0 153.0px,#218caf 0 154.8px,#1a7393 0 156.6px,#218eb1 0 158.4px,#10445e 0 160.2px,#186988 0 162.0px,#145874 0 163.8px,#124d68 0 165.6px,#1a7494 0 167.4px,#186b8a 0 169.2px,#196c8c 0 171.0px,#145875 0 172.8px,#1a7190 0 174.6px,#26a2c7 0 176.4px,#249bbe 0 178.2px,#104760 0 180.0px,#124f6a 0 181.8px,#1a7191 0 183.6px,#186887 0 185.4px,#1a7191 0 187.2px,#165f7c 0 189.0px,#259fc3 0 190.8px,#145571 0 192.6px,#145672 0 194.4px,#145976 0 196.2px,#1a7191 0 198.0px,#124e69 0 199.8px,#124c67 0 201.6px,#155e7b 0 203.4px,#145571 0 205.2px,#155e7b 0 207.0px,#186988 0 208.8px,#114b66 0 210.6px,#1d7d9e 0 212.4px,#113243 0 214.2px,#103d53 0 216.0px,#0f4059 0 217.8px,#114862 0 219.6px,#186887 0 221.4px,#103b50 0 223.2px,#1c7b9c 0 225.0px,#0f3e55 0 227.0px,#959d32 0 228.8px,#a5ad32 0 230.6px,#8c9432 0 232.4px,#d6dc32 0 234.2px,#959d32 0 236.0px,#d6dc32 0 239.6px,#79802d 0 241.4px,#c6cc32 0 243.2px,#868e30 0 245.0px,#585d25 0 246.8px,#a7ae32 0 248.6px,#72782b 0 250.4px,#4d5123 0 252.2px,#aab232 0 254.0px,#686e29 0 255.8px,#757c2c 0 257.6px,#7e852e 0 259.4px,#919932 0 261.2px,#5c6126 0 263.0px,#767d2c 0 264.8px,#949c32 0 266.6px,#8f9732 0 268.4px,#a6ad32 0 270.2px,#979e32 0 272.0px,#7f862e 0 273.8px,#636928 0 275.6px,#79802d 0 277.4px,#767c2c 0 279.2px,#7e852e 0 281.0px,#858c30 0 282.8px,#5a5f26 0 284.6px,#666c29 0 286.4px,#bfc532 0 288.2px,#494d22 0 290.0px,#aeb532 0 291.8px,#848b30 0 293.6px,#9ea632 0 295.4px,#81892f 0 297.2px,#444821 0 299.0px,#aeb532 0 300.8px,#71772b 0 302.6px,#959d32 0 304.4px,#6e742a 0 306.2px,#6f752b 0 308.0px,#79802d 0 309.8px,#646a28 0 311.6px,#909832 0 313.4px,#575b25 0 315.2px,#5e6327 0 317.0px,#868d30 0 318.8px,#79802d 0 320.6px,#6c712a 0 322.4px,#a0a832 0 324.2px,#5b6026 0 326.0px,#888f31 0 327.8px,#9ea532 0 329.6px,#6f752b 0 331.4px,#747a2c 0 333.2px,#939b32 0 335.0px,#676d29 0 336.8px,#929a32 0 338.6px,#a2a932 0 340.4px,#909832 0 342.2px,#80872f 0 344.0px,#676c29 0 345.8px,#80882f 0 347.6px,#bac132 0 349.4px,#a3ab32 0 351.2px,#a8af32 0 353.0px,#abb232 0 354.8px,#d6dc32 0 356.6px,#6b712a 0 358.4px,#757b2c 0 360.2px,#696f29 0 362.0px,#98a032 0 363.8px,#4b4f22 0 365.6px,#545824 0 367.4px,#bac132 0 369.2px,#929a32 0 371.0px,#757b2c 0 372.8px,#70762b 0 374.6px,#868e30 0 376.4px,#7e852e 0 378.2px,#b5bc32 0 380.0px,#70762b 0 381.8px,#899031 0 383.6px,#777e2d 0 385.4px,#777d2d 0 387.2px,#6c712a 0 389.0px,#909832 0 390.8px,#6e742b 0 392.6px,#b4bb32 0 394.4px,#848b30 0 396.2px,#676d29 0 398.0px,#747b2c 0 399.8px,#5e6327 0 401.6px,#858d30 0 403.4px,#889031 0 405.2px,#9da432 0 407.0px,#7e852e 0 408.8px,#868e30 0 410.6px,#6c722a 0 412.4px,#8c9431 0 414.2px,#d6dc32 0 416.0px,#b4bb32 0 417.8px,#626828 0 419.6px,#787f2d 0 421.4px,#959d32 0 423.2px,#838a2f 0 425.0px,#979f32 0 426.8px,#bdc432 0 428.6px,#989f32 0 430.4px,#686e29 0 432.2px,#c6cc32 0 434.0px,#99a132 0 435.8px,#73792c 0 437.6px,#80882f 0 439.4px,#797f2d 0 441.2px,#6a702a 0 443.0px,#989f32 0 444.8px,#979e32 0 446.6px,#a0a832 0 448.4px,#73792c 0 450.2px,#7f862e 0 452.0px,#8d9432 0 453.8px,#7b822d 0 455.6px,#6a702a 0 457.4px,#878f30 0 459.2px,#6e742a 0 461.0px,#565a25 0 462.8px,#adb432 0 464.6px,#81882f 0 466.4px,#71772b 0 468.2px,#959d32 0 470.0px,#9ba332 0 471.8px,#9ea532 0 473.6px,#737a2c 0 475.4px,#889031 0 477.2px,#8e9632 0 479.0px,#676c29 0 480.8px,#8f9732 0 482.6px,#82892f 0 484.4px,#525724 0 486.2px,#939b32 0 488.0px,#81882f 0 489.8px,#757c2c 0 491.6px,#929a32 0 493.4px,#919832 0 495.2px,#a1a832 0 497.0px,#d6dc32 0 498.8px,#868e30 0 500.6px,#676d29 0 502.4px,#b9c032 0 504.2px,#7b822e 0 506.0px,#868e30 0 507.8px,#7c832e 0 509.6px,#a4ab32 0 511.4px,#606627 0 513.2px,#767d2c 0 515.0px,#6c722a 0 516.8px,#82892f 0 518.6px,#575c25 0 520.4px,#cdd332 0 522.2px,#82892f 0 524.0px,#80872f 0 525.8px,#777e2d 0 527.6px,#9ba232 0 529.4px,#787e2d 0 531.2px,#79802d 0 533.0px,#6d732a 0 534.8px,#b0b732 0 536.6px,#a9b032 0 538.4px,#6f762b 0 540.2px,#7a812d 0 542.0px,#7d842e 0 543.8px,#646928 0 545.6px,#555a25 0 547.0px)"></div>
<div style="left:408.15px;width:11.23px;background:linear-gradient(#2ab2d8 0 1.8px,#218eb1 0 3.6px,#2ab2d8 0 5.4px,#103649 0 7.2px,#1f85a7 0 9.0px,#1e83a4 0 10.8px,#1e82a3 0 12.6px,#249abe 0 14.4px,#1c799a 0 16.2px,#13242c 0 18.0px,#13232b 0 19.8px,#103b51 0 21.6px,#186887 0 23.4px,#145874 0 27.0px,#186988 0 28.8px,#2ab2d8 0 30.6px,#2291b4 0 32.4px,#13536e 0 34.2px,#1a7393 0 36.0px,#176684 0 37.8px,#196c8c 0 39.6px,#155e7b 0 41.4px,#166280 0 43.2px,#196d8d 0 45.0px,#155d7b 0 46.8px,#1e83a4 0 48.6px,#0f435c 0 50.4px,#186988 0 52.2px,#16607d 0 55.8px,#186b8a 0 57.6px,#196c8b 0 59.4px,#13516c 0 61.2px,#10455e 0 63.0px,#0f3f57 0 64.8px,#1d7e9f 0 66.6px,#104761 0 68.4px,#1e81a2 0 70.2px,#196f8e 0 72.0px,#155d79 0 73.8px,#1b7595 0 75.6px,#1a7190 0 77.4px,#176684 0 79.2px,#103c51 0 81.0px,#1e82a4 0 82.8px,#155a76 0 84.6px,#176685 0 86.4px,#176684 0 88.2px,#10455f 0 90.0px,#196b8a 0 91.8px,#2190b2 0 93.6px,#196c8b 0 95.4px,#0f415a 0 97.2px,#155d7b 0 99.0px,#16617f 0 100.8px,#103b51 0 102.6px,#145773 0 104.4px,#1d7e9f 0 106.2px,#208bad 0 108.0px,#259ec3 0 109.8px,#114b65 0 111.6px,#1a7292 0 113.4px,#155d7a 0 117.0px,#155e7b 0 118.8px,#2089ac 0 120.6px,#1c7b9c 0 122.4px,#113140 0 124.2px,#1e81a3 0 126.0px,#2394b8 0 127.8px,#196d8c 0 129.6px,#1a7393 0 131.4px,#112e3d 0 133.2px,#176583 0 135.0px,#1d80a1 0 136.8px,#114862 0 138.6px,#26a1c6 0 140.4px,#249abd 0 142.2px,#1b7696 0 144.0px,#1a7494 0 145.8px,#1c7899 0 147.6px,#196d8c 0 149.4px,#1c7899 0 151.2px,#2498bc 0 153.0px,#1f84a6 0 154.8px,#196c8b 0 156.6px,#218fb1 0 158.4px,#0f4059 0 160.2px,#1a7191 0 162.0px,#176381 0 163.8px,#12506b 0 165.6px,#2089ac 0 167.4px,#16607d 0 169.2px,#196e8d 0 171.0px,#124c67 0 172.8px,#176482 0 174.6px,#25a0c4 0 176.4px,#2396ba 0 178.2px,#10455e 0 180.0px,#12506b 0 181.8px,#196e8d 0 183.6px,#196f8f 0 185.4px,#1d7e9f 0 187.2px,#186987 0 189.0px,#259dc1 0 190.8px,#16607d 0 192.6px,#12506b 0 194.4px,#176583 0 196.2px,#1a7090 0 198.0px,#103a4f 0 199.8px,#114862 0 201.6px,#166280 0 203.4px,#124f69 0 205.2px,#186a89 0 207.0px,#196c8b 0 208.8px,#13526d 0 210.6px,#186886 0 212.4px,#113243 0 214.2px,#0f3e56 0 216.0px,#114862 0 217.8px,#124f69 0 219.6px,#155c78 0 221.4px,#11303f 0 223.2px,#1d7ea0 0 225.0px,#10435d 0 227.0px,#8d9532 0 228.8px,#a9b032 0 230.6px,#8d9532 0 232.4px,#d6dc32 0 234.2px,#bcc332 0 236.0px,#d6dc32 0 239.6px,#8d9532 0 241.4px,#c5cb32 0 243.2px,#899031 0 245.0px,#505524 0 246.8px,#a3ab32 0 248.6px,#787e2d 0 250.4px,#606527 0 252.2px,#b3ba32 0 254.0px,#545924 0 255.8px,#858c30 0 257.6px,#848b30 0 259.4px,#9ea532 0 261.2px,#72792b 0 263.0px,#696e29 0 264.8px,#9fa632 0 266.6px,#8f9732 0 268.4px,#b3ba32 0 270.2px,#919932 0 272.0px,#878e30 0 273.8px,#797f2d 0 275.6px,#7d842e 0 277.4px,#828a2f 0 279.2px,#868d30 0 281.0px,#878f30 0 282.8px,#70772b 0 284.6px,#6a702a 0 286.4px,#b7be32 0 288.2px,#3d4120 0 290.0px,#a4ac32 0 291.8px,#8a9131 0 293.6px,#99a132 0 295.4px,#7d842e 0 297.2px,#515524 0 299.0px,#b2b932 0 300.8px,#777d2d 0 302.6px,#8c9432 0 304.4px,#7f862e 0 306.2px,#767c2c 0 308.0px,#7d842e 0 309.8px,#72792b 0 311.6px,#a0a832 0 313.4px,#616727 0 315.2px,#656b28 0 317.0px,#70772b 0 318.8px,#7f872f 0 320.6px,#545824 0 322.4px,#868d30 0 324.2px,#6d732a 0 326.0px,#888f31 0 327.8px,#a0a832 0 329.6px,#7e852e 0 331.4px,#82892f 0 333.2px,#9ea532 0 335.0px,#636928 0 336.8px,#989f32 0 338.6px,#a3ab32 0 340.4px,#848b30 0 342.2px,#71782b 0 344.0px,#5d6226 0 345.8px,#899131 0 347.6px,#a8b032 0 349.4px,#a1a932 0 351.2px,#b8bf32 0 353.0px,#9fa732 0 354.8px,#d6dc32 0 356.6px,#6a702a 0 358.4px,#6b712a 0 360.2px,#696f29 0 362.0px,#969d32 0 363.8px,#515624 0 365.6px,#494d22 0 367.4px,#acb432 0 369.2px,#919832 0 371.0px,#686e29 0 372.8px,#6d732a 0 374.6px,#8b9331 0 376.4px,#858c30 0 378.2px,#acb332 0 380.0px,#7e852e 0 381.8px,#80872f 0 383.6px,#666b29 0 385.4px,#7d842e 0 387.2px,#939b32 0 389.0px,#99a132 0 390.8px,#7b822e 0 392.6px,#9fa632 0 394.4px,#787f2d 0 396.2px,#6c722a 0 398.0px,#7e852e 0 399.8px,#70762b 0 401.6px,#899031 0 403.4px,#919932 0 405.2px,#909832 0 407.0px,#777e2d 0 408.8px,#71782b 0 410.6px,#747a2c 0 412.4px,#858c30 0 414.2px,#c0c732 0 416.0px,#b3ba32 0 417.8px,#5d6226 0 419.6px,#979f32 0 421.4px,#9ba232 0 423.2px,#80872f 0 425.0px,#82892f 0 426.8px,#b5bc32 0 428.6px,#939b32 0 430.4px,#646928 0 432.2px,#d6dc32 0 434.0px,#9ca432 0 435.8px,#787f2d 0 437.6px,#949c32 0 439.4px,#71772b 0 441.2px,#757c2c 0 443.0px,#959d32 0 444.8px,#919932 0 446.6px,#9fa732 0 448.4px,#737a2c 0 450.2px,#8b9331 0 452.0px,#909832 0 453.8px,#73792c 0 455.6px,#646928 0 457.4px,#888f31 0 459.2px,#767d2c 0 461.0px,#6f752b 0 462.8px,#b1b832 0 464.6px,#969e32 0 466.4px,#878e30 0 468.2px,#a3aa32 0 470.0px,#909832 0 471.8px,#9da532 0 473.6px,#616627 0 475.4px,#878f30 0 477.2px,#969e32 0 479.0px,#616728 0 480.8px,#82892f 0 482.6px,#9da532 0 484.4px,#4f5423 0 486.2px,#919932 0 488.0px,#777d2d 0 489.8px,#6e742a 0 491.6px,#8d9532 0 493.4px,#a2a932 0 495.2px,#9ea632 0 497.0px,#d6dc32 0 498.8px,#8e9632 0 500.6px,#848c30 0 502.4px,#cad132 0 504.2px,#7b822e 0 506.0px,#868d30 0 507.8px,#777d2d 0 509.6px,#929a32 0 511.4px,#565b25 0 513.2px,#899131 0 515.0px,#919932 0 516.8px,#959c32 0 518.6px,#616627 0 520.4px,#cdd332 0 522.2px,#848b30 0 524.0px,#696f29 0 525.8px,#787f2d 0 527.6px,#899131 0 529.4px,#767d2c 0 531.2px,#81892f 0 533.0px,#7d842e 0 534.8px,#9da532 0 536.6px,#a5ac32 0 538.4px,#747a2c 0 540.2px,#6f762b 0 542.0px,#848b30 0 543.8px,#6f752b 0 545.6px,#555925 0 547.0px)"></div>
<div style="left:418.78px;width:11.23px;background:linear-gradient(#2ab2d8 0 1.8px,#1f87a9 0 3.6px,#2ab2d8 0 5.4px,#103a4f 0 7.2px,#1f84a6 0 9.0px,#1f86a8 0 10.8px,#196e8d 0 12.6px,#26a3c7 0 14.4px,#1a7191 0 16.2px,#113344 0 18.0px,#122732 0 19.8px,#104660 0 21.6px,#1a7191 0 23.4px,#1a7190 0 25.2px,#186b8a 0 27.0px,#1a7494 0 28.8px,#2ab2d8 0 30.6px,#27a8cd 0 32.4px,#145874 0 34.2px,#218fb1 0 36.0px,#196d8d 0 37.8px,#1c799a 0 39.6px,#176583 0 41.4px,#176381 0 43.2px,#1a7090 0 46.8px,#218caf 0 48.6px,#114a64 0 50.4px,#1c7b9c 0 52.2px,#1a7191 0 54.0px,#176684 0 55.8px,#1a7292 0 57.6px,#1a7191 0 59.4px,#13516c 0 61.2px,#124e69 0 63.0px,#124f6a 0 64.8px,#2292b5 0 66.6px,#16617f 0 68.4px,#1d7d9e 0 70.2px,#1b7696 0 72.0px,#196f8f 0 73.8px,#1a7090 0 75.6px,#2190b2 0 77.4px,#1f84a6 0 79.2px,#10445e 0 81.0px,#2294b7 0 82.8px,#196d8d 0 84.6px,#186a89 0 86.4px,#186b89 0 88.2px,#103c52 0 90.0px,#196e8d 0 91.8px,#208aad 0 93.6px,#1a7191 0 95.4px,#124d68 0 97.2px,#135570 0 99.0px,#1a7090 0 100.8px,#112e3c 0 102.6px,#12506b 0 104.4px,#1f88aa 0 106.2px,#25a0c4 0 108.0px,#249bbf 0 109.8px,#145773 0 111.6px,#196f8f 0 113.4px,#145774 0 115.2px,#186886 0 117.0px,#135570 0 118.8px,#1f87a9 0 120.6px,#196f8f 0 122.4px,#103649 0 124.2px,#218caf 0 126.0px,#259dc1 0 127.8px,#155c78 0 129.6px,#1c7b9c 0 131.4px,#10384c 0 133.2px,#1a7190 0 135.0px,#1d7fa0 0 136.8px,#155b78 0 138.6px,#28aacf 0 140.4px,#28abd0 0 142.2px,#196c8b 0 144.0px,#1c7b9c 0 145.8px,#1c7a9b 0 147.6px,#1c7b9b 0 149.4px,#1c7899 0 151.2px,#27a7cc 0 153.0px,#1d7e9f 0 154.8px,#1d7d9e 0 156.6px,#2395b8 0 158.4px,#124d67 0 160.2px,#1b7696 0 162.0px,#145672 0 163.8px,#124f6a 0 165.6px,#2292b5 0 167.4px,#196b8b 0 169.2px,#1c7b9c 0 171.0px,#135470 0 172.8px,#196f8e 0 174.6px,#26a1c5 0 176.4px,#2498bc 0 178.2px,#114863 0 180.0px,#186887 0 181.8px,#165f7d 0 183.6px,#155b78 0 185.4px,#208aad 0 187.2px,#186786 0 189.0px,#26a2c7 0 190.8px,#1a7090 0 192.6px,#135470 0 194.4px,#196b8a 0 196.2px,#196e8d 0 198.0px,#124e68 0 199.8px,#145673 0 201.6px,#16617f 0 203.4px,#13526d 0 205.2px,#186887 0 207.0px,#186b8a 0 208.8px,#13526e 0 210.6px,#1d7e9f 0 212.4px,#122c38 0 214.2px,#10435d 0 216.0px,#0f3f57 0 217.8px,#10455f 0 219.6px,#16607d 0 221.4px,#103a4f 0 223.2px,#1b7595 0 225.0px,#114964 0 227.0px,#7c822e 0 228.8px,#959d32 0 230.6px,#656a28 0 232.4px,#cfd532 0 234.2px,#a1a932 0 236.0px,#d6dc32 0 237.8px,#d2d832 0 239.6px,#909832 0 241.4px,#c1c832 0 243.2px,#79802d 0 245.0px,#555a25 0 246.8px,#82892f 0 248.6px,#80872f 0 250.4px,#414521 0 252.2px,#959d32 0 254.0px,#5e6327 0 255.8px,#79802d 0 257.6px,#757c2c 0 259.4px,#a2a932 0 261.2px,#616727 0 263.0px,#646928 0 264.8px,#9aa232 0 266.6px,#959d32 0 268.4px,#a4ac32 0 270.2px,#959d32 0 272.0px,#6b702a 0 273.8px,#6f752b 0 275.6px,#6c722a 0 277.4px,#797f2d 0 279.2px,#70772b 0 281.0px,#868d30 0 282.8px,#646928 0 284.6px,#5f6427 0 286.4px,#c5cb32 0 288.2px,#3a3e1f 0 290.0px,#a1a932 0 291.8px,#80872f 0 293.6px,#909832 0 295.4px,#899131 0 297.2px,#545824 0 299.0px,#9ca432 0 300.8px,#606527 0 302.6px,#8c9431 0 304.4px,#899131 0 306.2px,#747a2c 0 308.0px,#7a812d 0 309.8px,#73792c 0 311.6px,#929a32 0 313.4px,#5d6327 0 315.2px,#646a28 0 317.0px,#81882f 0 318.8px,#747a2c 0 320.6px,#5b6026 0 322.4px,#9aa132 0 324.2px,#646928 0 326.0px,#888f30 0 327.8px,#acb332 0 329.6px,#6a6f29 0 331.4px,#7e852e 0 333.2px,#979f32 0 335.0px,#656b28 0 336.8px,#8b9331 0 338.6px,#979f32 0 340.4px,#8f9732 0 342.2px,#81892f 0 344.0px,#676d29 0 345.8px,#878e30 0 347.6px,#a3aa32 0 349.4px,#959d32 0 351.2px,#969e32 0 353.0px,#a7ae32 0 354.8px,#d3d932 0 356.6px,#737a2c 0 358.4px,#6f752b 0 360.2px,#646a28 0 362.0px,#a0a832 0 363.8px,#535824 0 365.6px,#4f5323 0 367.4px,#acb332 0 369.2px,#858d30 0 371.0px,#5d6226 0 372.8px,#73792c 0 374.6px,#868e30 0 376.4px,#7d842e 0 378.2px,#b7be32 0 380.0px,#606627 0 381.8px,#8d9532 0 383.6px,#5a5f26 0 385.4px,#6e742a 0 387.2px,#858d30 0 389.0px,#99a032 0 390.8px,#626828 0 392.6px,#a9b032 0 394.4px,#7b822e 0 396.2px,#6a702a 0 398.0px,#6b712a 0 399.8px,#72782b 0 401.6px,#7c832e 0 403.4px,#7e862e 0 405.2px,#8e9632 0 407.0px,#7c832e 0 408.8px,#6e742b 0 410.6px,#686d29 0 412.4px,#8e9632 0 414.2px,#c4cb32 0 416.0px,#9fa632 0 417.8px,#686e29 0 419.6px,#7c832e 0 421.4px,#99a032 0 423.2px,#757c2c 0 425.0px,#7d842e 0 426.8px,#c6cc32 0 428.6px,#878f30 0 430.4px,#4e5323 0 432.2px,#c4ca32 0 434.0px,#98a032 0 435.8px,#6c722a 0 437.6px,#7e852e 0 439.4px,#868e30 0 441.2px,#8b9331 0 443.0px,#9ba232 0 444.8px,#8b9331 0 446.6px,#a5ad32 0 448.4px,#79802d 0 450.2px,#848b30 0 452.0px,#8e9632 0 453.8px,#606527 0 455.6px,#5f6427 0 457.4px,#929a32 0 459.2px,#6e752b 0 461.0px,#5b6026 0 462.8px,#b7be32 0 464.6px,#8a9231 0 466.4px,#848b30 0 468.2px,#a5ad32 0 470.0px,#919832 0 471.8px,#9ca432 0 473.6px,#636828 0 475.4px,#838b30 0 477.2px,#858d30 0 479.0px,#5e6427 0 480.8px,#939b32 0 482.6px,#878e30 0 484.4px,#5b6026 0 486.2px,#a1a832 0 488.0px,#7b812d 0 489.8px,#6b712a 0 491.6px,#909832 0 493.4px,#939a32 0 495.2px,#969e32 0 497.0px,#d6dc32 0 498.8px,#858d30 0 500.6px,#676d29 0 502.4px,#bbc232 0 504.2px,#71772b 0 506.0px,#81882f 0 509.6px,#abb232 0 511.4px,#545824 0 513.2px,#7e852e 0 515.0px,#82892f 0 516.8px,#8a9231 0 518.6px,#676d29 0 520.4px,#ccd232 0 522.2px,#757b2c 0 524.0px,#7a812d 0 525.8px,#6c722a 0 527.6px,#929a32 0 529.4px,#7a812d 0 531.2px,#7a802d 0 533.0px,#6e742b 0 534.8px,#b1b832 0 536.6px,#9fa732 0 538.4px,#696f29 0 540.2px,#5d6226 0 542.0px,#6e742b 0 543.8px,#71782b 0 545.6px,#4f5323 0 547.0px)"></div>
<div style="left:429.41px;width:11.23px;background:linear-gradient(#2ab2d8 0 1.8px,#1f87a9 0 3.6px,#2ab2d8 0 5.4px,#0f4058 0 7.2px,#2290b3 0 9.0px,#218daf 0 10.8px,#1d80a1 0 12.6px,#28abd0 0 14.4px,#196f8e 0 16.2px,#0f4058 0 18.0px,#112d3a 0 19.8px,#104660 0 21.6px,#1a7090 0 23.4px,#1b7898 0 25.2px,#176684 0 27.0px,#1d7e9f 0 28.8px,#2ab2d8 0 30.6px,#2394b8 0 32.4px,#186a88 0 34.2px,#2292b5 0 36.0px,#196d8c 0 37.8px,#1d7d9e 0 39.6px,#1a7292 0 41.4px,#176583 0 43.2px,#1c7b9c 0 45.0px,#1d7e9f 0 46.8px,#2395b8 0 48.6px,#104660 0 50.4px,#196f8f 0 52.2px,#176482 0 54.0px,#1b7494 0 55.8px,#1a7292 0 57.6px,#1f85a7 0 59.4px,#155a76 0 61.2px,#135571 0 63.0px,#145874 0 64.8px,#26a3c7 0 66.6px,#145773 0 68.4px,#2088aa 0 70.2px,#1a7494 0 72.0px,#186786 0 73.8px,#176381 0 75.6px,#196e8e 0 77.4px,#1d7e9f 0 79.2px,#104760 0 81.0px,#2396ba 0 82.8px,#135571 0 84.6px,#1a7090 0 86.4px,#1a7393 0 88.2px,#0f3d54 0 90.0px,#176482 0 91.8px,#218fb1 0 93.6px,#1f86a8 0 95.4px,#155b78 0 99.0px,#196c8b 0 100.8px,#113243 0 102.6px,#155b78 0 104.4px,#1a7292 0 106.2px,#26a1c5 0 108.0px,#259dc1 0 109.8px,#124f6a 0 111.6px,#19708f 0 113.4px,#155a76 0 115.2px,#196d8d 0 117.0px,#165f7c 0 118.8px,#1f84a6 0 120.6px,#176785 0 122.4px,#114862 0 124.2px,#1f85a7 0 126.0px,#26a0c5 0 127.8px,#196e8d 0 129.6px,#1a7292 0 131.4px,#103c52 0 133.2px,#1e81a3 0 135.0px,#218fb2 0 136.8px,#13536e 0 138.6px,#2ab2d8 0 140.4px,#28abd1 0 142.2px,#1c7999 0 144.0px,#1a7292 0 145.8px,#1b7494 0 147.6px,#1a7191 0 149.4px,#218fb1 0 151.2px,#26a0c5 0 153.0px,#1f86a8 0 154.8px,#1b7595 0 156.6px,#218eb1 0 158.4px,#145875 0 160.2px,#1a7090 0 162.0px,#155c79 0 163.8px,#124d67 0 165.6px,#218fb1 0 167.4px,#196d8d 0 169.2px,#196c8b 0 171.0px,#145874 0 172.8px,#196f8e 0 174.6px,#28a9cf 0 176.4px,#259ec2 0 178.2px,#10455f 0 180.0px,#13516d 0 181.8px,#196f8f 0 183.6px,#196c8b 0 185.4px,#1a7494 0 187.2px,#1d7e9f 0 189.0px,#259fc3 0 190.8px,#155d7a 0 192.6px,#145773 0 194.4px,#176785 0 196.2px,#1b7697 0 198.0px,#114963 0 199.8px,#124c67 0 201.6px,#145774 0 203.4px,#145773 0 205.2px,#16607d 0 207.0px,#186a89 0 208.8px,#12506b 0 210.6px,#196e8e 0 212.4px,#10384c 0 214.2px,#10445e 0 216.0px,#10455e 0 217.8px,#135571 0 219.6px,#196f8e 0 221.4px,#103d53 0 223.2px,#1c7a9a 0 225.0px,#104660 0 227.0px,#838a2f 0 230.6px,#6b712a 0 232.4px,#c6cd32 0 234.2px,#81892f 0 236.0px,#d6dc32 0 237.8px,#d1d732 0 239.6px,#9da532 0 241.4px,#b0b732 0 243.2px,#7a812d 0 245.0px,#535724 0 246.8px,#a4ab32 0 248.6px,#636828 0 250.4px,#4c5123 0 252.2px,#a8af32 0 254.0px,#5d6327 0 255.8px,#7a812d 0 257.6px,#6f762b 0 259.4px,#979f32 0 261.2px,#6c722a 0 263.0px,#72782b 0 264.8px,#909832 0 266.6px,#8c9431 0 268.4px,#9fa732 0 270.2px,#8f9732 0 272.0px,#6b712a 0 273.8px,#6a7029 0 275.6px,#73792c 0 277.4px,#7b822e 0 279.2px,#646928 0 281.0px,#838b30 0 282.8px,#6e742b 0 284.6px,#575c25 0 286.4px,#bcc232 0 288.2px,#35391e 0 290.0px,#b2b932 0 291.8px,#7b822d 0 293.6px,#848b30 0 295.4px,#80872f 0 297.2px,#5b6026 0 299.0px,#9da532 0 300.8px,#636928 0 302.6px,#848b30 0 304.4px,#7b822e 0 306.2px,#838a2f 0 308.0px,#6d742a 0 309.8px,#777e2d 0 311.6px,#8a9231 0 313.4px,#626828 0 315.2px,#777e2d 0 317.0px,#7c832e 0 318.8px,#787f2d 0 320.6px,#5f6427 0 322.4px,#909832 0 324.2px,#5a5f26 0 326.0px,#6a7029 0 327.8px,#9aa132 0 329.6px,#757b2c 0 331.4px,#7f862e 0 333.2px,#848c30 0 335.0px,#777e2d 0 336.8px,#838b30 0 338.6px,#9ca432 0 340.4px,#8d9532 0 342.2px,#7f862f 0 344.0px,#686d29 0 345.8px,#888f31 0 347.6px,#b7bd32 0 349.4px,#a1a832 0 351.2px,#afb632 0 353.0px,#9ba232 0 354.8px,#d6dc32 0 356.6px,#6f752b 0 358.4px,#858d30 0 360.2px,#7d842e 0 362.0px,#8d9532 0 363.8px,#4b4f22 0 365.6px,#6d742a 0 367.4px,#b6bd32 0 369.2px,#98a032 0 371.0px,#626828 0 372.8px,#79802d 0 374.6px,#969e32 0 376.4px,#939a32 0 378.2px,#c7cd32 0 380.0px,#6c722a 0 381.8px,#7e862e 0 383.6px,#70762b 0 385.4px,#848b30 0 387.2px,#959d32 0 389.0px,#9ca432 0 390.8px,#6e742b 0 392.6px,#b6bd32 0 394.4px,#888f31 0 396.2px,#777e2d 0 398.0px,#696f29 0 399.8px,#6b712a 0 401.6px,#7b822e 0 403.4px,#888f31 0 405.2px,#959d32 0 407.0px,#81882f 0 408.8px,#72782b 0 410.6px,#767d2c 0 412.4px,#888f30 0 414.2px,#c4cb32 0 416.0px,#aeb532 0 417.8px,#626728 0 419.6px,#82892f 0 421.4px,#9fa732 0 423.2px,#7d842e 0 425.0px,#868d30 0 426.8px,#c3ca32 0 428.6px,#838b2f 0 430.4px,#666c29 0 432.2px,#c1c732 0 434.0px,#a4ac32 0 435.8px,#6f752b 0 437.6px,#959d32 0 439.4px,#7f862e 0 441.2px,#7e852e 0 443.0px,#919932 0 444.8px,#949b32 0 446.6px,#9ba332 0 448.4px,#616728 0 450.2px,#8a9231 0 452.0px,#949c32 0 453.8px,#6a702a 0 455.6px,#6f752b 0 457.4px,#959d32 0 459.2px,#70762b 0 461.0px,#585d25 0 462.8px,#b0b732 0 464.6px,#838a2f 0 466.4px,#71772b 0 468.2px,#9ca432 0 470.0px,#939a32 0 471.8px,#b5bc32 0 473.6px,#5e6427 0 475.4px,#787e2d 0 477.2px,#929a32 0 479.0px,#575c25 0 480.8px,#979e32 0 482.6px,#889031 0 484.4px,#4a4e22 0 486.2px,#8c9331 0 488.0px,#7b812d 0 489.8px,#7f862e 0 491.6px,#939b32 0 493.4px,#969e32 0 495.2px,#9da532 0 497.0px,#d6dc32 0 498.8px,#797f2d 0 500.6px,#7d842e 0 502.4px,#afb632 0 504.2px,#7c832e 0 506.0px,#8e9532 0 507.8px,#7b822e 0 509.6px,#99a132 0 511.4px,#616728 0 513.2px,#9aa232 0 515.0px,#7b822e 0 516.8px,#8c9432 0 518.6px,#595e26 0 520.4px,#d6dc32 0 522.2px,#81892f 0 524.0px,#676c29 0 525.8px,#8f9732 0 527.6px,#899031 0 529.4px,#6e742a 0 531.2px,#7c832e 0 533.0px,#656b28 0 534.8px,#aab132 0 536.6px,#9aa232 0 538.4px,#848c30 0 540.2px,#5f6427 0 542.0px,#72782b 0 543.8px,#676d29 0 545.6px,#505523 0 547.0px)"></div>
<div style="left:440.04px;width:11.23px;background:linear-gradient(#2ab2d8 0 1.8px,#218eb1 0 3.6px,#2ab2d8 0 5.4px,#10394e 0 7.2px,#2294b7 0 9.0px,#2293b6 0 10.8px,#218caf 0 12.6px,#27a8cd 0 14.4px,#1c7999 0 16.2px,#0f415a 0 18.0px,#113343 0 19.8px,#114963 0 21.6px,#1b7798 0 23.4px,#1f84a6 0 25.2px,#1d7d9d 0 27.0px,#1d7d9e 0 28.8px,#2ab2d8 0 30.6px,#27a7cc 0 32.4px,#166280 0 34.2px,#2398bb 0 36.0px,#1a7494 0 37.8px,#1a7393 0 39.6px,#186988 0 41.4px,#1c7b9c 0 43.2px,#2291b4 0 45.0px,#1b7697 0 46.8px,#26a1c5 0 48.6px,#145571 0 50.4px,#2293b6 0 52.2px,#1b7898 0 54.0px,#186988 0 55.8px,#1e81a2 0 59.4px,#155c79 0 61.2px,#165e7b 0 63.0px,#124d68 0 64.8px,#259fc4 0 66.6px,#16627f 0 68.4px,#1f87a9 0 70.2px,#176684 0 72.0px,#1b7797 0 73.8px,#1c799a 0 75.6px,#1c7a9b 0 77.4px,#1a7393 0 79.2px,#10455e 0 81.0px,#2294b7 0 82.8px,#176381 0 84.6px,#16607d 0 86.4px,#1c7a9a 0 88.2px,#104660 0 90.0px,#1b7898 0 91.8px,#26a3c8 0 93.6px,#2089ab 0 95.4px,#135570 0 97.2px,#165f7d 0 99.0px,#1a7393 0 100.8px,#103a4f 0 102.6px,#13526d 0 104.4px,#1c7b9c 0 106.2px,#259cc0 0 108.0px,#29add3 0 109.8px,#124e68 0 111.6px,#1b7696 0 113.4px,#155b78 0 115.2px,#186887 0 117.0px,#176482 0 118.8px,#2398bb 0 120.6px,#186b8a 0 122.4px,#10394e 0 124.2px,#1d7d9e 0 126.0px,#2397ba 0 127.8px,#1a7090 0 129.6px,#196e8d 0 131.4px,#113446 0 133.2px,#1b7798 0 135.0px,#2397ba 0 136.8px,#135571 0 138.6px,#26a3c8 0 140.4px,#27a6cb 0 142.2px,#176785 0 144.0px,#186987 0 145.8px,#1b7898 0 147.6px,#196e8e 0 149.4px,#2088aa 0 151.2px,#2ab2d8 0 153.0px,#2290b3 0 154.8px,#1d7c9d 0 156.6px,#2396ba 0 158.4px,#114964 0 160.2px,#166280 0 162.0px,#186a89 0 163.8px,#145773 0 165.6px,#218fb2 0 167.4px,#19708f 0 169.2px,#1b7798 0 171.0px,#124d68 0 172.8px,#186a89 0 174.6px,#2ab2d8 0 176.4px,#249bbf 0 178.2px,#114862 0 180.0px,#12506b 0 181.8px,#1a7494 0 183.6px,#196c8b 0 185.4px,#2089ab 0 187.2px,#16627f 0 189.0px,#2ab2d8 0 190.8px,#166280 0 192.6px,#145975 0 194.4px,#176381 0 196.2px,#1f86a8 0 198.0px,#0f415a 0 199.8px,#114c66 0 201.6px,#155d7a 0 203.4px,#13516d 0 205.2px,#186a89 0 207.0px,#1a7292 0 208.8px,#114963 0 210.6px,#1d7d9e 0 212.4px,#103547 0 214.2px,#104862 0 216.0px,#103c52 0 217.8px,#104660 0 219.6px,#176380 0 221.4px,#0f3d54 0 223.2px,#2293b6 0 225.0px,#104761 0 227.0px,#72792c 0 228.8px,#8f9732 0 230.6px,#656b28 0 232.4px,#aeb632 0 234.2px,#8e9632 0 236.0px,#d6dc32 0 237.8px,#ccd232 0 239.6px,#8b9331 0 241.4px,#adb432 0 243.2px,#959d32 0 245.0px,#646928 0 246.8px,#a5ac32 0 248.6px,#656b28 0 250.4px,#545924 0 252.2px,#a2a932 0 254.0px,#535824 0 255.8px,#7e852e 0 257.6px,#838a2f 0 259.4px,#a6ad32 0 261.2px,#636928 0 263.0px,#747a2c 0 264.8px,#949c32 0 266.6px,#889031 0 268.4px,#cbd132 0 270.2px,#959d32 0 272.0px,#7b822e 0 273.8px,#80872f 0 275.6px,#7b822e 0 277.4px,#889031 0 279.2px,#7e862e 0 281.0px,#8f9732 0 282.8px,#70762b 0 284.6px,#676c29 0 286.4px,#c3ca32 0 288.2px,#434721 0 290.0px,#c3c932 0 291.8px,#82892f 0 293.6px,#a6ad32 0 295.4px,#858c30 0 297.2px,#484c22 0 299.0px,#9fa732 0 300.8px,#676d29 0 302.6px,#80872f 0 304.4px,#81882f 0 306.2px,#8f9732 0 308.0px,#909832 0 309.8px,#747b2c 0 311.6px,#a1a832 0 313.4px,#5e6327 0 315.2px,#79802d 0 317.0px,#7c832e 0 318.8px,#787e2d 0 320.6px,#686e29 0 322.4px,#8a9231 0 324.2px,#5f6427 0 326.0px,#8c9432 0 327.8px,#a9b032 0 329.6px,#70772b 0 331.4px,#7f862e 0 333.2px,#929a32 0 335.0px,#747a2c 0 336.8px,#959d32 0 338.6px,#a8af32 0 340.4px,#8c9431 0 342.2px,#71772b 0 344.0px,#696f29 0 345.8px,#888f30 0 347.6px,#a5ac32 0 349.4px,#a3ab32 0 351.2px,#a2a932 0 353.0px,#939b32 0 354.8px,#c8ce32 0 356.6px,#4c5022 0 358.4px,#797f2d 0 360.2px,#666b29 0 362.0px,#99a132 0 363.8px,#525724 0 365.6px,#5f6427 0 367.4px,#a3aa32 0 369.2px,#98a032 0 371.0px,#666c29 0 372.8px,#6b702a 0 374.6px,#7b822e 0 376.4px,#828a2f 0 378.2px,#bfc632 0 380.0px,#5b5f26 0 381.8px,#858d30 0 383.6px,#646a28 0 385.4px,#777e2d 0 387.2px,#8a9131 0 389.0px,#919932 0 390.8px,#73792c 0 392.6px,#a6ad32 0 394.4px,#7a812d 0 396.2px,#6e752b 0 398.0px,#72782b 0 399.8px,#686e29 0 401.6px,#8b9331 0 403.4px,#868d30 0 405.2px,#848c30 0 407.0px,#767d2c 0 408.8px,#747a2c 0 410.6px,#6d732a 0 412.4px,#858c30 0 414.2px,#d6dc32 0 416.0px,#a5ac32 0 417.8px,#6e742a 0 419.6px,#7b822e 0 421.4px,#9fa732 0 423.2px,#80872f 0 425.0px,#868d30 0 426.8px,#b3ba32 0 428.6px,#8a9231 0 430.4px,#545924 0 432.2px,#c3c932 0 434.0px,#979f32 0 435.8px,#70772b 0 437.6px,#899131 0 439.4px,#7e852e 0 441.2px,#757b2c 0 443.0px,#969e32 0 444.8px,#9ba232 0 446.6px,#909832 0 448.4px,#7f862e 0 450.2px,#8d9532 0 452.0px,#979f32 0 453.8px,#757b2c 0 455.6px,#5c6126 0 457.4px,#8d9532 0 459.2px,#7d842e 0 461.0px,#616627 0 462.8px,#c1c732 0 464.6px,#8f9732 0 466.4px,#888f30 0 468.2px,#979e32 0 470.0px,#99a132 0 471.8px,#aeb532 0 473.6px,#676d29 0 475.4px,#79802d 0 477.2px,#929a32 0 479.0px,#6a6f29 0 480.8px,#98a032 0 482.6px,#8a9131 0 484.4px,#616728 0 486.2px,#a8af32 0 488.0px,#80872f 0 489.8px,#70772b 0 491.6px,#959d32 0 493.4px,#a7ae32 0 495.2px,#a8af32 0 497.0px,#d6dc32 0 498.8px,#878f30 0 500.6px,#8b9331 0 502.4px,#c2c932 0 504.2px,#838a2f 0 506.0px,#909832 0 507.8px,#80872f 0 509.6px,#a2a932 0 511.4px,#616627 0 513.2px,#929a32 0 515.0px,#81882f 0 516.8px,#82892f 0 518.6px,#5a5f26 0 520.4px,#d6dc32 0 522.2px,#919932 0 524.0px,#7b822e 0 525.8px,#6c722a 0 527.6px,#98a032 0 529.4px,#666b28 0 531.2px,#7a812d 0 533.0px,#666c29 0 534.8px,#b5bc32 0 536.6px,#a5ac32 0 538.4px,#737a2c 0 540.2px,#676d29 0 542.0px,#8d9532 0 543.8px,#6c722a 0 545.6px,#565b25 0 547.0px)"></div>
<div style="left:450.67px;width:10.63px;background:linear-gradient(#2ab2d8 0 1.8px,#208cae 0 3.6px,#2ab2d8 0 5.4px,#0f415a 0 7.2px,#208aac 0 9.0px,#218eb1 0 10.8px,#1e81a3 0 12.6px,#26a4c9 0 14.4px,#196c8b 0 16.2px,#0f3e55 0 18.0px,#11303f 0 19.8px,#104660 0 21.6px,#196e8d 0 23.4px,#2395b8 0 25.2px,#1b7797 0 27.0px,#1f87a9 0 28.8px,#2ab2d8 0 30.6px,#2396b9 0 32.4px,#155d79 0 34.2px,#1e83a4 0 36.0px,#196e8d 0 37.8px,#218eb1 0 39.6px,#1d7c9d 0 41.4px,#1c7b9c 0 43.2px,#1f87a9 0 45.0px,#1c7a9a 0 46.8px,#2396ba 0 48.6px,#114963 0 50.4px,#218caf 0 52.2px,#1a7292 0 54.0px,#186887 0 55.8px,#1f84a6 0 57.6px,#218caf 0 59.4px,#176785 0 61.2px,#124f6a 0 63.0px,#13516c 0 64.8px,#249bbf 0 66.6px,#145874 0 68.4px,#1f85a7 0 70.2px,#1a7393 0 72.0px,#1a7494 0 73.8px,#1c7c9d 0 77.4px,#1d80a1 0 79.2px,#124e69 0 81.0px,#1e84a6 0 82.8px,#186785 0 84.6px,#196d8c 0 86.4px,#1a7393 0 88.2px,#13516c 0 90.0px,#1a7494 0 91.8px,#249cc0 0 93.6px,#1d7d9e 0 95.4px,#124c67 0 97.2px,#176381 0 99.0px,#1c7b9c 0 100.8px,#103b50 0 102.6px,#124d67 0 104.4px,#1d7e9f 0 106.2px,#2291b4 0 108.0px,#28a8cd 0 109.8px,#145672 0 111.6px,#1b7697 0 113.4px,#145975 0 115.2px,#186a88 0 117.0px,#196c8b 0 118.8px,#218fb2 0 120.6px,#186887 0 122.4px,#10455f 0 124.2px,#1c7999 0 126.0px,#218db0 0 127.8px,#1b7797 0 129.6px,#1e83a4 0 131.4px,#113242 0 133.2px,#1f84a6 0 135.0px,#249abe 0 136.8px,#13516c 0 138.6px,#2397ba 0 140.4px,#26a3c7 0 142.2px,#186785 0 144.0px,#1a7191 0 145.8px,#1b7797 0 147.6px,#1f85a7 0 149.4px,#1d7c9d 0 151.2px,#2ab2d8 0 153.0px,#208bae 0 154.8px,#1b7797 0 156.6px,#2292b5 0 158.4px,#0f425c 0 160.2px,#1e83a5 0 162.0px,#155c79 0 163.8px,#155a77 0 165.6px,#1e83a5 0 167.4px,#1b7696 0 169.2px,#196f8f 0 171.0px,#13526d 0 172.8px,#1a7191 0 174.6px,#27a7cc 0 176.4px,#26a2c6 0 178.2px,#145774 0 180.0px,#145672 0 181.8px,#1e82a4 0 183.6px,#1a7292 0 185.4px,#1b7494 0 187.2px,#196e8d 0 189.0px,#2499bd 0 190.8px,#176583 0 192.6px,#145975 0 194.4px,#186a89 0 196.2px,#1d7e9f 0 198.0px,#10445e 0 199.8px,#114862 0 201.6px,#165f7d 0 203.4px,#155d7a 0 205.2px,#176684 0 207.0px,#186a89 0 208.8px,#145571 0 210.6px,#1f85a7 0 212.4px,#113446 0 214.2px,#12506b 0 216.0px,#104761 0 217.8px,#104660 0 219.6px,#1a7393 0 221.4px,#103c52 0 223.2px,#1f86a8 0 225.0px,#10455f 0 227.0px,#71772b 0 228.8px,#8f9732 0 230.6px,#6d732a 0 232.4px,#c4ca32 0 234.2px,#8d9432 0 236.0px,#d6dc32 0 237.8px,#d5db32 0 239.6px,#a4ab32 0 241.4px,#c3c932 0 243.2px,#878f30 0 245.0px,#525624 0 246.8px,#a1a932 0 248.6px,#81882f 0 250.4px,#4f5323 0 252.2px,#bfc632 0 254.0px,#6f752b 0 255.8px,#919932 0 257.6px,#868e30 0 259.4px,#a0a732 0 261.2px,#7c832e 0 263.0px,#72782b 0 264.8px,#a4ab32 0 266.6px,#8e9632 0 268.4px,#b1b832 0 270.2px,#a4ac32 0 272.0px,#8f9732 0 273.8px,#767d2c 0 275.6px,#777e2d 0 277.4px,#6f752b 0 279.2px,#858c30 0 281.0px,#959d32 0 282.8px,#6d732a 0 284.6px,#676d29 0 286.4px,#c6cc32 0 288.2px,#454921 0 290.0px,#bdc432 0 291.8px,#99a132 0 293.6px,#a4ac32 0 295.4px,#8d9532 0 297.2px,#585d25 0 299.0px,#acb332 0 300.8px,#7b812d 0 302.6px,#8f9732 0 304.4px,#8b9331 0 306.2px,#82892f 0 308.0px,#777e2d 0 309.8px,#767d2c 0 311.6px,#8b9331 0 313.4px,#666c29 0 315.2px,#7a802d 0 317.0px,#7c832e 0 318.8px,#82892f 0 320.6px,#6b712a 0 322.4px,#929a32 0 324.2px,#73792c 0 326.0px,#838b2f 0 327.8px,#afb632 0 329.6px,#868e30 0 331.4px,#8b9231 0 333.2px,#acb332 0 335.0px,#73792c 0 336.8px,#9aa232 0 338.6px,#abb232 0 340.4px,#8f9732 0 342.2px,#656a28 0 344.0px,#6f752b 0 345.8px,#848c30 0 347.6px,#afb632 0 349.4px,#979f32 0 351.2px,#aab132 0 353.0px,#a5ac32 0 354.8px,#d5db32 0 356.6px,#6f752b 0 358.4px,#70762b 0 360.2px,#666b29 0 362.0px,#838b2f 0 363.8px,#484c22 0 365.6px,#555924 0 367.4px,#9ca432 0 369.2px,#888f31 0 371.0px,#7c832e 0 372.8px,#7a812d 0 374.6px,#838b2f 0 376.4px,#7c832e 0 378.2px,#b7be32 0 380.0px,#747b2c 0 381.8px,#838a2f 0 383.6px,#5d6227 0 385.4px,#787f2d 0 387.2px,#838a2f 0 389.0px,#828a2f 0 390.8px,#777e2d 0 392.6px,#afb632 0 394.4px,#7c832e 0 396.2px,#666b29 0 398.0px,#696f29 0 399.8px,#737a2c 0 401.6px,#72782b 0 403.4px,#909832 0 405.2px,#7f862f 0 407.0px,#70762b 0 408.8px,#6e742a 0 410.6px,#7b822e 0 412.4px,#959d32 0 414.2px,#abb232 0 416.0px,#b9c032 0 417.8px,#636928 0 419.6px,#7b812d 0 421.4px,#9ea632 0 423.2px,#777e2d 0 425.0px,#7c822e 0 426.8px,#c3ca32 0 428.6px,#8b9331 0 430.4px,#555a25 0 432.2px,#d1d832 0 434.0px,#99a132 0 435.8px,#7b822e 0 437.6px,#868d30 0 439.4px,#919932 0 441.2px,#6f752b 0 443.0px,#899031 0 444.8px,#9aa232 0 446.6px,#abb232 0 448.4px,#878f30 0 450.2px,#7b822e 0 452.0px,#98a032 0 453.8px,#81882f 0 455.6px,#666c29 0 457.4px,#9fa732 0 459.2px,#7f862e 0 461.0px,#6d732a 0 462.8px,#c4ca32 0 464.6px,#939b32 0 466.4px,#80872f 0 468.2px,#929a32 0 470.0px,#a2a932 0 471.8px,#aab132 0 473.6px,#79802d 0 475.4px,#8d9532 0 477.2px,#909832 0 479.0px,#656b28 0 480.8px,#959c32 0 482.6px,#949c32 0 484.4px,#606527 0 486.2px,#98a032 0 488.0px,#858d30 0 489.8px,#6e742a 0 491.6px,#a7ae32 0 493.4px,#9da432 0 495.2px,#a4ab32 0 497.0px,#d6dc32 0 498.8px,#949c32 0 500.6px,#787f2d 0 502.4px,#bdc432 0 504.2px,#889031 0 506.0px,#949b32 0 507.8px,#8d9532 0 509.6px,#9da532 0 511.4px,#5a5f26 0 513.2px,#8c9431 0 515.0px,#79802d 0 516.8px,#909832 0 518.6px,#545824 0 520.4px,#bfc632 0 522.2px,#82892f 0 524.0px,#646a28 0 525.8px,#70772b 0 527.6px,#9fa732 0 529.4px,#777e2d 0 531.2px,#70772b 0 533.0px,#6e742a 0 534.8px,#a8af32 0 536.6px,#9aa132 0 538.4px,#80872f 0 540.2px,#71772b 0 542.0px,#8f9732 0 543.8px,#676d29 0 545.6px,#505524 0 547.0px)"></div>
<div style="left:472.2px;width:10.9px;background:#0e0e0e"></div>
<div style="left:482.50px;width:11.30px;background:linear-gradient(#112d3b 0 1.8px,#2ab2d8 0 7.2px,#259fc4 0 9.0px,#2ab2d8 0 10.8px,#2088aa 0 12.6px,#13536f 0 14.4px,#2089ab 0 16.2px,#2397ba 0 18.0px,#25a0c4 0 19.8px,#176785 0 21.6px,#2291b4 0 23.4px,#2089ab 0 25.2px,#2ab2d8 0 30.6px,#186988 0 32.4px,#186a89 0 34.2px,#218fb2 0 36.0px,#249abe 0 37.8px,#1d7fa0 0 39.6px,#196f8e 0 41.4px,#186b8a 0 43.2px,#1e81a2 0 45.0px,#104660 0 46.8px,#114c66 0 48.6px,#2ab2d8 0 50.4px,#249bbe 0 52.2px,#2ab2d8 0 54.0px,#16607d 0 55.8px,#1b7798 0 57.6px,#2ab2d8 0 59.4px,#249cc0 0 61.2px,#249abe 0 63.0px,#2ab2d8 0 64.8px,#26a1c6 0 66.6px,#2ab2d8 0 68.4px,#27a7cc 0 70.2px,#218daf 0 72.0px,#28acd1 0 73.8px,#2ab2d8 0 75.6px,#1f85a7 0 77.4px,#259ec2 0 79.2px,#29acd2 0 81.0px,#2190b2 0 82.8px,#155a76 0 84.6px,#27a7cc 0 88.2px,#259dc1 0 90.0px,#1b7697 0 91.8px,#2398bb 0 93.6px,#208bad 0 95.4px,#2ab2d8 0 97.2px,#218fb2 0 99.0px,#2ab1d7 0 100.8px,#196f8e 0 102.6px,#124f69 0 104.4px,#12506b 0 106.2px,#1c799a 0 108.0px,#208aac 0 109.8px,#1e82a3 0 111.6px,#16627f 0 113.4px,#186785 0 115.2px,#196c8b 0 117.0px,#155d7a 0 118.8px,#196d8d 0 120.6px,#1e82a3 0 122.4px,#25a0c4 0 124.2px,#27a8cd 0 126.0px,#259ec2 0 127.8px,#2ab2d8 0 131.4px,#259dc1 0 133.2px,#2ab2d8 0 136.8px,#28acd1 0 138.6px,#28abd1 0 140.4px,#2ab2d8 0 144.0px,#1f84a6 0 145.8px,#2ab2d8 0 147.6px,#1e84a6 0 149.4px,#2ab2d8 0 151.2px,#208cae 0 153.0px,#2394b8 0 154.8px,#2ab2d8 0 162.0px,#27a5c9 0 163.8px,#1e81a2 0 165.6px,#249abe 0 167.4px,#1e81a3 0 169.2px,#2394b7 0 171.0px,#208bad 0 172.8px,#2ab2d8 0 174.6px,#28aacf 0 176.4px,#218eb1 0 178.2px,#1b7798 0 180.0px,#29acd2 0 181.8px,#29b0d5 0 183.6px,#2397ba 0 185.4px,#1f87a9 0 187.2px,#208bae 0 189.0px,#1f86a8 0 190.8px,#2ab2d8 0 194.4px,#1f87a9 0 196.2px,#1c7a9b 0 198.0px,#2ab2d8 0 199.8px,#28a9ce 0 201.6px,#186a89 0 203.4px,#145673 0 205.2px,#124e69 0 207.0px,#2394b8 0 208.8px,#176381 0 210.6px,#29add2 0 212.4px,#145874 0 214.2px,#186887 0 216.0px,#145976 0 217.8px,#1a7291 0 219.6px,#12506b 0 221.4px,#166280 0 223.2px,#13536f 0 225.0px,#29b0d6 0 227.0px,#a0a732 0 228.8px,#9ba332 0 230.6px,#9da532 0 232.4px,#98a032 0 234.2px,#4a4e22 0 236.0px,#909832 0 237.8px,#d0d632 0 239.6px,#d6dc32 0 241.4px,#868e30 0 243.2px,#80882f 0 245.0px,#7b822e 0 246.8px,#80872f 0 250.4px,#b7bd32 0 252.2px,#9ea632 0 254.0px,#b7be32 0 255.8px,#bfc532 0 257.6px,#8c9432 0 259.4px,#a1a832 0 261.2px,#d6dc32 0 264.8px,#9ba332 0 266.6px,#6a702a 0 268.4px,#d6dc32 0 270.2px,#959d32 0 272.0px,#656a28 0 273.8px,#c1c832 0 275.6px,#5f6427 0 277.4px,#abb232 0 279.2px,#b9c032 0 281.0px,#606527 0 282.8px,#98a032 0 284.6px,#c7cd32 0 286.4px,#909832 0 288.2px,#a4ab32 0 290.0px,#838a2f 0 291.8px,#8a9231 0 293.6px,#b6bd32 0 295.4px,#9da532 0 297.2px,#a5ac32 0 299.0px,#6a6f29 0 300.8px,#98a032 0 302.6px,#4c5022 0 304.4px,#d6dc32 0 306.2px,#909832 0 308.0px,#a3ab32 0 309.8px,#a8af32 0 311.6px,#9ea632 0 313.4px,#626728 0 315.2px,#bbc232 0 317.0px,#838a2f 0 318.8px,#8b9331 0 320.6px,#8f9732 0 322.4px,#838a2f 0 324.2px,#5a5f26 0 326.0px,#899131 0 327.8px,#d6dc32 0 329.6px,#9aa132 0 331.4px,#5d6327 0 333.2px,#a6ad32 0 335.0px,#6b712a 0 336.8px,#636828 0 338.6px,#c0c632 0 340.4px,#70762b 0 342.2px,#878e30 0 344.0px,#585d25 0 345.8px,#a8af32 0 347.6px,#8e9632 0 349.4px,#979e32 0 351.2px,#6d732a 0 353.0px,#b2b932 0 354.8px,#a6ad32 0 356.6px,#929a32 0 358.4px,#797f2d 0 360.2px,#9ca432 0 362.0px,#71772b 0 363.8px,#6f752b 0 365.6px,#adb432 0 367.4px,#b9c032 0 369.2px,#d6dc32 0 371.0px,#9ca432 0 372.8px,#acb332 0 374.6px,#616627 0 376.4px,#9fa632 0 378.2px,#8a9231 0 380.0px,#a2aa32 0 381.8px,#d6dc32 0 383.6px,#70762b 0 385.4px,#838a2f 0 387.2px,#899131 0 389.0px,#949c32 0 390.8px,#80872f 0 392.6px,#98a032 0 394.4px,#a0a832 0 396.2px,#73792c 0 398.0px,#d6dc32 0 401.6px,#b3ba32 0 403.4px,#9ca332 0 405.2px,#6f752b 0 407.0px,#bcc332 0 408.8px,#d6dc32 0 410.6px,#adb432 0 412.4px,#d6dc32 0 414.2px,#909832 0 416.0px,#bec432 0 417.8px,#959d32 0 419.6px,#989f32 0 421.4px,#c7cd32 0 423.2px,#a1a832 0 425.0px,#7e852e 0 426.8px,#9fa632 0 428.6px,#737a2c 0 430.4px,#bfc532 0 432.2px,#a7ae32 0 434.0px,#939b32 0 435.8px,#d6dc32 0 437.6px,#7f862e 0 439.4px,#505423 0 441.2px,#464a21 0 443.0px,#899131 0 444.8px,#a1a932 0 446.6px,#70772b 0 448.4px,#98a032 0 450.2px,#70762b 0 452.0px,#d6dc32 0 453.8px,#c0c632 0 455.6px,#d6dc32 0 457.4px,#b9c032 0 459.2px,#828a2f 0 461.0px,#616727 0 462.8px,#d6dc32 0 464.6px,#b1b832 0 466.4px,#b7be32 0 468.2px,#7a812d 0 470.0px,#d4da32 0 471.8px,#858d30 0 473.6px,#969d32 0 475.4px,#878f30 0 477.2px,#7c832e 0 479.0px,#c6cd32 0 480.8px,#d6dc32 0 482.6px,#bec432 0 484.4px,#d6dc32 0 486.2px,#797f2d 0 488.0px,#d0d732 0 489.8px,#474b21 0 491.6px,#5e6427 0 493.4px,#191d1a 0 495.2px,#aeb532 0 497.0px,#c8ce32 0 498.8px,#cbd132 0 500.6px,#adb432 0 502.4px,#d6dc32 0 504.2px,#a6ad32 0 506.0px,#cbd132 0 507.8px,#b1b832 0 509.6px,#b3ba32 0 511.4px,#b5bc32 0 513.2px,#cad032 0 515.0px,#abb232 0 516.8px,#d3d932 0 518.6px,#bfc532 0 520.4px,#bfc632 0 522.2px,#aeb532 0 524.0px,#9da432 0 525.8px,#eeeec8 0 531.2px,#181c1a 0 533.0px,#34381e 0 534.8px,#656b28 0 536.6px,#434721 0 538.4px,#282c1c 0 540.2px,#171b1a 0 542.0px,#131d20 0 543.8px,#141b1e 0 545.6px,#161a19 0 547.0px)"></div>
<div style="left:493.20px;width:11.30px;background:linear-gradient(#12262f 0 1.8px,#2ab2d8 0 5.4px,#29b0d6 0 7.2px,#29aed4 0 9.0px,#2ab2d8 0 10.8px,#1e84a5 0 12.6px,#165e7b 0 14.4px,#1a7494 0 16.2px,#2291b4 0 18.0px,#28a9ce 0 19.8px,#186b8a 0 21.6px,#218eb1 0 23.4px,#208aac 0 25.2px,#2ab2d8 0 30.6px,#1a7292 0 32.4px,#1e83a4 0 34.2px,#208bad 0 36.0px,#249bbf 0 37.8px,#186a89 0 39.6px,#1e81a2 0 41.4px,#186988 0 43.2px,#2089ab 0 45.0px,#13526e 0 46.8px,#0f435c 0 48.6px,#2ab2d8 0 50.4px,#26a2c7 0 52.2px,#27a7cc 0 54.0px,#186886 0 55.8px,#165e7c 0 57.6px,#2ab2d8 0 59.4px,#2398bb 0 61.2px,#29afd5 0 63.0px,#2290b3 0 64.8px,#1f86a8 0 66.6px,#29add2 0 68.4px,#2ab2d8 0 70.2px,#218db0 0 72.0px,#28aacf 0 73.8px,#2ab2d8 0 75.6px,#2291b4 0 77.4px,#27a7cc 0 79.2px,#2ab2d8 0 81.0px,#1f86a8 0 82.8px,#1d7d9e 0 84.6px,#2ab2d8 0 86.4px,#2395b9 0 88.2px,#25a0c4 0 90.0px,#27a5c9 0 91.8px,#259dc1 0 93.6px,#1f88aa 0 95.4px,#28abd1 0 97.2px,#218fb2 0 99.0px,#2ab2d8 0 100.8px,#166280 0 102.6px,#104660 0 104.4px,#113344 0 106.2px,#1c7a9b 0 108.0px,#2291b3 0 109.8px,#249bbe 0 111.6px,#19708f 0 113.4px,#176684 0 115.2px,#1c7999 0 117.0px,#155a77 0 118.8px,#186988 0 120.6px,#1b7697 0 122.4px,#2498bc 0 124.2px,#259fc3 0 126.0px,#259dc1 0 127.8px,#29add2 0 129.6px,#2ab2d8 0 131.4px,#2ab1d7 0 133.2px,#27a8cd 0 135.0px,#28acd1 0 136.8px,#249bbf 0 138.6px,#2ab2d8 0 144.0px,#1e83a4 0 145.8px,#28abd0 0 147.6px,#2395b9 0 149.4px,#2ab2d8 0 151.2px,#2089ab 0 153.0px,#2394b7 0 154.8px,#2ab2d8 0 162.0px,#218daf 0 163.8px,#1b7595 0 165.6px,#26a2c7 0 167.4px,#218fb1 0 169.2px,#29b0d6 0 171.0px,#2499bc 0 172.8px,#2ab2d8 0 176.4px,#259fc3 0 178.2px,#27a6cb 0 180.0px,#2292b5 0 181.8px,#2ab2d8 0 183.6px,#259cc0 0 185.4px,#218db0 0 187.2px,#1a7394 0 189.0px,#1a7292 0 190.8px,#2ab2d8 0 194.4px,#218daf 0 196.2px,#186988 0 198.0px,#2ab2d8 0 199.8px,#28a8cd 0 201.6px,#176685 0 203.4px,#165f7c 0 205.2px,#196b8a 0 207.0px,#1b7697 0 208.8px,#155d7a 0 210.6px,#218fb2 0 212.4px,#12506b 0 214.2px,#1d7fa1 0 216.0px,#104660 0 217.8px,#1a7292 0 219.6px,#104660 0 221.4px,#1b7898 0 223.2px,#145571 0 225.0px,#259dc1 0 227.0px,#d6dc32 0 228.8px,#b5bc32 0 230.6px,#9fa632 0 232.4px,#afb632 0 234.2px,#545924 0 236.0px,#b6bd32 0 237.8px,#d6dc32 0 241.4px,#959d32 0 243.2px,#929a32 0 245.0px,#80872f 0 246.8px,#777e2d 0 248.6px,#989f32 0 250.4px,#d6dc32 0 252.2px,#b2b932 0 254.0px,#bec532 0 255.8px,#d6dc32 0 257.6px,#b3ba32 0 259.4px,#959d32 0 261.2px,#c0c732 0 263.0px,#d6dc32 0 266.6px,#909832 0 268.4px,#d6dc32 0 270.2px,#c0c732 0 272.0px,#757c2c 0 273.8px,#d6dc32 0 275.6px,#787f2d 0 277.4px,#a8af32 0 279.2px,#bdc432 0 281.0px,#6d732a 0 282.8px,#d6dc32 0 284.6px,#cbd132 0 286.4px,#9da432 0 288.2px,#9fa632 0 290.0px,#9ea632 0 291.8px,#a8af32 0 293.6px,#d5db32 0 295.4px,#d6dc32 0 297.2px,#b5bc32 0 299.0px,#80872f 0 300.8px,#bec432 0 302.6px,#71782b 0 304.4px,#d6dc32 0 306.2px,#b9c032 0 308.0px,#d0d632 0 309.8px,#a7ae32 0 311.6px,#cbd132 0 313.4px,#8f9732 0 315.2px,#d6dc32 0 317.0px,#a3aa32 0 318.8px,#a3ab32 0 320.6px,#9fa732 0 322.4px,#878e30 0 324.2px,#848b30 0 326.0px,#959c32 0 327.8px,#d6dc32 0 329.6px,#b3ba32 0 331.4px,#79802d 0 333.2px,#9da532 0 335.0px,#8e9632 0 336.8px,#919932 0 338.6px,#c1c832 0 340.4px,#8d9532 0 342.2px,#969d32 0 344.0px,#5c6126 0 345.8px,#9ba232 0 347.6px,#99a132 0 349.4px,#adb432 0 351.2px,#848c30 0 353.0px,#c8cf32 0 354.8px,#bfc632 0 356.6px,#b7be32 0 358.4px,#98a032 0 360.2px,#979f32 0 362.0px,#919932 0 363.8px,#899131 0 365.6px,#d2d832 0 367.4px,#cbd132 0 369.2px,#d6dc32 0 371.0px,#a2aa32 0 372.8px,#c7ce32 0 374.6px,#666b29 0 376.4px,#a2a932 0 378.2px,#858d30 0 380.0px,#a5ac32 0 381.8px,#d6dc32 0 383.6px,#797f2d 0 385.4px,#939b32 0 387.2px,#a4ab32 0 389.0px,#aab132 0 390.8px,#9ba232 0 392.6px,#bec532 0 394.4px,#c4cb32 0 396.2px,#81882f 0 398.0px,#d6dc32 0 401.6px,#b8be32 0 403.4px,#9fa732 0 405.2px,#949c32 0 407.0px,#bbc232 0 408.8px,#d6dc32 0 410.6px,#cfd632 0 412.4px,#d6dc32 0 414.2px,#9ba332 0 416.0px,#d6dc32 0 417.8px,#bfc632 0 419.6px,#bec432 0 421.4px,#c4cb32 0 423.2px,#bdc332 0 425.0px,#939b32 0 426.8px,#b9c032 0 428.6px,#a5ac32 0 430.4px,#cdd332 0 432.2px,#b9c032 0 434.0px,#9da532 0 435.8px,#d6dc32 0 437.6px,#a0a732 0 439.4px,#70762b 0 441.2px,#666b29 0 443.0px,#b1b832 0 444.8px,#bdc432 0 446.6px,#828a2f 0 448.4px,#98a032 0 450.2px,#a1a932 0 452.0px,#d6dc32 0 453.8px,#c5cc32 0 455.6px,#d6dc32 0 457.4px,#d4da32 0 459.2px,#aeb532 0 461.0px,#79802d 0 462.8px,#d1d732 0 464.6px,#929a32 0 466.4px,#c1c832 0 468.2px,#777e2d 0 470.0px,#d6dc32 0 471.8px,#79802d 0 473.6px,#8a9131 0 475.4px,#767d2c 0 477.2px,#929a32 0 479.0px,#d6dc32 0 486.2px,#7c832e 0 488.0px,#d6dc32 0 489.8px,#686d29 0 491.6px,#7b822e 0 493.4px,#2c301d 0 495.2px,#b9c032 0 497.0px,#d6dc32 0 500.6px,#b5bb32 0 502.4px,#d6dc32 0 504.2px,#bbc232 0 506.0px,#d6dc32 0 507.8px,#c7cd32 0 509.6px,#c3ca32 0 511.4px,#d6dc32 0 515.0px,#cdd332 0 516.8px,#d6dc32 0 522.2px,#c8ce32 0 524.0px,#b8bf32 0 525.8px,#eeeec8 0 531.2px,#484c22 0 533.0px,#575c25 0 534.8px,#686d29 0 536.6px,#a3aa32 0 538.4px,#2f331e 0 540.2px,#14191b 0 542.0px,#272b1c 0 543.8px,#131d21 0 545.6px,#32361e 0 547.0px)"></div>
<div style="left:503.90px;width:10.70px;background:linear-gradient(#112e3d 0 1.8px,#2ab2d8 0 7.2px,#28aacf 0 9.0px,#2ab2d8 0 10.8px,#1f87a9 0 12.6px,#145672 0 14.4px,#1a7494 0 16.2px,#26a0c5 0 18.0px,#27a6cb 0 19.8px,#1c799a 0 21.6px,#218fb1 0 23.4px,#1f84a6 0 25.2px,#2ab2d8 0 30.6px,#186b8a 0 32.4px,#1f88aa 0 34.2px,#218fb2 0 36.0px,#208bad 0 37.8px,#2396b9 0 39.6px,#176483 0 41.4px,#16617f 0 43.2px,#2089ab 0 45.0px,#103c52 0 46.8px,#12506b 0 48.6px,#2ab2d8 0 50.4px,#218fb2 0 52.2px,#2396ba 0 54.0px,#1b7798 0 55.8px,#1b7596 0 57.6px,#2ab2d8 0 61.2px,#218fb2 0 63.0px,#28aacf 0 64.8px,#259ec2 0 66.6px,#29add2 0 68.4px,#2ab1d7 0 70.2px,#218daf 0 72.0px,#2ab2d8 0 75.6px,#1e84a5 0 77.4px,#2ab2d8 0 81.0px,#2293b6 0 82.8px,#1e83a4 0 84.6px,#2ab2d8 0 86.4px,#27a5c9 0 88.2px,#25a0c4 0 90.0px,#1f85a7 0 91.8px,#2ab2d8 0 93.6px,#27a5ca 0 95.4px,#2ab1d6 0 97.2px,#2395b9 0 99.0px,#29aed4 0 100.8px,#16617f 0 102.6px,#10445d 0 104.4px,#0f415a 0 106.2px,#29add2 0 108.0px,#1c7c9d 0 109.8px,#1b7898 0 111.6px,#145773 0 113.4px,#1f85a7 0 115.2px,#16607e 0 117.0px,#1d7d9e 0 118.8px,#19708f 0 120.6px,#218fb2 0 122.4px,#1d7fa0 0 124.2px,#26a1c6 0 126.0px,#26a1c5 0 127.8px,#2ab2d8 0 131.4px,#26a4c9 0 133.2px,#29add3 0 135.0px,#259cc0 0 136.8px,#2290b3 0 138.6px,#28a8cd 0 140.4px,#2ab2d8 0 142.2px,#29b0d6 0 144.0px,#1c7899 0 145.8px,#27a5ca 0 147.6px,#2397bb 0 149.4px,#259dc1 0 151.2px,#2395b9 0 153.0px,#2396b9 0 154.8px,#2ab2d8 0 162.0px,#2ab0d6 0 163.8px,#1d7e9f 0 165.6px,#2ab2d8 0 167.4px,#249bbf 0 169.2px,#26a1c5 0 171.0px,#259fc3 0 172.8px,#2ab2d8 0 176.4px,#26a1c5 0 178.2px,#28a9ce 0 180.0px,#27a8cd 0 181.8px,#27a6cb 0 183.6px,#28a9ce 0 185.4px,#208cae 0 187.2px,#1e80a2 0 189.0px,#259fc3 0 190.8px,#2ab2d8 0 194.4px,#259cc0 0 196.2px,#1b7797 0 198.0px,#2ab2d8 0 199.8px,#259ec3 0 201.6px,#208aac 0 203.4px,#16627f 0 205.2px,#16617f 0 207.0px,#218eb1 0 208.8px,#1c7899 0 210.6px,#25a0c4 0 212.4px,#196c8b 0 214.2px,#16617e 0 216.0px,#114a64 0 217.8px,#12506c 0 219.6px,#155c78 0 221.4px,#186786 0 223.2px,#155b78 0 225.0px,#1b7494 0 227.0px,#c2c932 0 228.8px,#a5ac32 0 230.6px,#c3ca32 0 232.4px,#cbd232 0 234.2px,#5a5f26 0 236.0px,#a5ac32 0 237.8px,#d6dc32 0 241.4px,#909832 0 243.2px,#979f32 0 245.0px,#777e2d 0 246.8px,#757b2c 0 248.6px,#9ea632 0 250.4px,#d6dc32 0 252.2px,#a6ad32 0 254.0px,#d6dc32 0 257.6px,#b9c032 0 259.4px,#8e9532 0 261.2px,#cfd632 0 263.0px,#d6dc32 0 264.8px,#cad132 0 266.6px,#80872f 0 268.4px,#d6dc32 0 272.0px,#9aa132 0 273.8px,#d6dc32 0 275.6px,#8e9632 0 277.4px,#c4ca32 0 279.2px,#cdd432 0 281.0px,#7d842e 0 282.8px,#d6dc32 0 286.4px,#889031 0 288.2px,#acb332 0 290.0px,#a5ac32 0 291.8px,#9fa632 0 293.6px,#d3d932 0 295.4px,#cad132 0 297.2px,#aeb532 0 299.0px,#787e2d 0 300.8px,#b7be32 0 302.6px,#6b712a 0 304.4px,#d6dc32 0 306.2px,#afb632 0 308.0px,#b3ba32 0 309.8px,#b9c032 0 311.6px,#ced432 0 313.4px,#7d842e 0 315.2px,#d1d732 0 317.0px,#b8bf32 0 318.8px,#adb432 0 320.6px,#8e9632 0 322.4px,#899031 0 324.2px,#979f32 0 326.0px,#b0b732 0 327.8px,#d6dc32 0 329.6px,#b4bb32 0 331.4px,#626728 0 333.2px,#a3ab32 0 335.0px,#81882f 0 336.8px,#80882f 0 338.6px,#d4da32 0 340.4px,#889031 0 342.2px,#b7be32 0 344.0px,#6b712a 0 345.8px,#a1a832 0 347.6px,#bdc432 0 349.4px,#c9d032 0 351.2px,#6e742a 0 353.0px,#afb632 0 354.8px,#d6dc32 0 356.6px,#c4ca32 0 358.4px,#9fa632 0 360.2px,#a9b032 0 362.0px,#a5ac32 0 363.8px,#9aa232 0 365.6px,#d6dc32 0 367.4px,#bdc332 0 369.2px,#d6dc32 0 371.0px,#c4cb32 0 372.8px,#b4bb32 0 374.6px,#5f6527 0 376.4px,#bfc632 0 378.2px,#9da532 0 380.0px,#c3ca32 0 381.8px,#d6dc32 0 383.6px,#99a132 0 385.4px,#a0a832 0 387.2px,#b4bb32 0 389.0px,#b8bf32 0 390.8px,#bcc332 0 392.6px,#c8ce32 0 394.4px,#d6dc32 0 396.2px,#9ba332 0 398.0px,#d6dc32 0 401.6px,#d0d732 0 403.4px,#b0b732 0 405.2px,#a2a932 0 407.0px,#d5db32 0 408.8px,#d6dc32 0 410.6px,#c8ce32 0 412.4px,#d6dc32 0 414.2px,#9fa732 0 416.0px,#d6dc32 0 417.8px,#a8af32 0 419.6px,#bbc232 0 421.4px,#bfc632 0 423.2px,#c0c732 0 425.0px,#b6bd32 0 426.8px,#c7ce32 0 428.6px,#c8cf32 0 430.4px,#c3ca32 0 432.2px,#d6dc32 0 434.0px,#b7be32 0 435.8px,#d6dc32 0 437.6px,#b6bd32 0 439.4px,#72792c 0 441.2px,#565b25 0 443.0px,#b3ba32 0 444.8px,#c3c932 0 446.6px,#72782b 0 448.4px,#b0b732 0 450.2px,#9fa632 0 452.0px,#d6dc32 0 457.4px,#ced432 0 459.2px,#9ea532 0 461.0px,#787f2d 0 462.8px,#d6dc32 0 464.6px,#9da432 0 466.4px,#d6dc32 0 468.2px,#a1a932 0 470.0px,#d6dc32 0 471.8px,#b5bb32 0 473.6px,#878f30 0 475.4px,#a6ae32 0 477.2px,#9ea632 0 479.0px,#c1c732 0 480.8px,#d6dc32 0 486.2px,#a6ad32 0 488.0px,#d6dc32 0 489.8px,#72782b 0 491.6px,#848c30 0 493.4px,#4a4e22 0 495.2px,#b9c032 0 497.0px,#ccd232 0 498.8px,#d6dc32 0 500.6px,#cdd332 0 502.4px,#d6dc32 0 504.2px,#cfd532 0 506.0px,#d6dc32 0 507.8px,#bdc432 0 509.6px,#d6dc32 0 515.0px,#bfc632 0 516.8px,#d6dc32 0 524.0px,#c6cc32 0 525.8px,#eeeec8 0 531.2px,#494d22 0 533.0px,#6b712a 0 534.8px,#636828 0 536.6px,#767c2c 0 538.4px,#3b3f20 0 540.2px,#454921 0 542.0px,#1d211a 0 543.8px,#24281c 0 545.6px,#1d211b 0 547.0px)"></div>
<div style="left:482.5px;width:32.1px;top:109.8px;height:1.3px;background:#f4f4ee"></div>
<div style="left:482.5px;width:32.1px;top:122.4px;height:1.3px;background:#f4f4ee"></div>
<div style="left:482.5px;width:32.1px;top:150.1px;height:1.3px;background:#f4f4ee"></div>
<div style="left:482.5px;width:32.1px;top:189.0px;height:1.3px;background:#f4f4ee"></div>
<div style="left:482.5px;width:32.1px;top:199.4px;height:1.3px;background:#f4f4ee"></div>
<div style="left:482.5px;width:32.1px;top:213.0px;height:1.3px;background:#f4f4ee"></div>
<div style="left:482.5px;width:32.1px;top:230.0px;height:1.3px;background:#f4f4ee"></div>
<div style="left:482.5px;width:32.1px;top:259.8px;height:1.3px;background:#f4f4ee"></div>
<div style="left:482.5px;width:32.1px;top:286.6px;height:1.3px;background:#f4f4ee"></div>
<div style="left:482.5px;width:32.1px;top:294.4px;height:1.3px;background:#f4f4ee"></div>
<div style="left:482.5px;width:32.1px;top:314.1px;height:1.3px;background:#f4f4ee"></div>
<div style="left:482.5px;width:32.1px;top:331.1px;height:1.3px;background:#f4f4ee"></div>
<div style="left:482.5px;width:32.1px;top:338.8px;height:1.3px;background:#f4f4ee"></div>
<div style="left:482.5px;width:32.1px;top:435.7px;height:1.3px;background:#f4f4ee"></div>
<div style="left:482.5px;width:32.1px;top:489.4px;height:1.3px;background:#f4f4ee"></div>
<div style="left:482.5px;width:32.1px;top:552.9px;height:1.3px;background:#f4f4ee"></div>
<div style="left:482.5px;width:32.1px;top:600.4px;height:1.3px;background:#f4f4ee"></div>
<div class="sp" style="left:313.10px"></div>
<div class="sp" style="left:323.50px"></div>
<div class="sp" style="left:333.90px"></div>
<div class="sp" style="left:344.30px"></div>
<div class="sp" style="left:365.33px"></div>
<div class="sp" style="left:375.96px"></div>
<div class="sp" style="left:386.59px"></div>
<div class="sp" style="left:397.22px"></div>
<div class="sp" style="left:407.85px"></div>
<div class="sp" style="left:418.48px"></div>
<div class="sp" style="left:429.11px"></div>
<div class="sp" style="left:439.74px"></div>
<div class="sp" style="left:450.37px"></div>
<div class="sp" style="left:492.90px"></div>
<div class="sp" style="left:503.60px"></div>
</div>
<svg width="520" height="634">
<text x="0.6" y="13.8" font-size="18" transform="matrix(1 0 0 1.0 0 -0.00)" font-weight="bold">A</text>
<line x1="64" y1="5.0" x2="64" y2="141.5" stroke="#000" stroke-width="1.4"/>
<line x1="60.8" y1="141.5" x2="64" y2="141.5" stroke="#000" stroke-width="1.4"/>
<text x="57.6" y="144.8" font-size="8.9" text-anchor="end" transform="matrix(1 0 0 1.07 0 -10.14)">0</text>
<line x1="60.8" y1="124.4375" x2="64" y2="124.4375" stroke="#000" stroke-width="1.4"/>
<text x="57.6" y="127.74" font-size="8.9" text-anchor="end" transform="matrix(1 0 0 1.07 0 -8.94)">0.2</text>
<line x1="60.8" y1="107.375" x2="64" y2="107.375" stroke="#000" stroke-width="1.4"/>
<text x="57.6" y="110.67" font-size="8.9" text-anchor="end" transform="matrix(1 0 0 1.07 0 -7.75)">0.4</text>
<line x1="60.8" y1="90.3125" x2="64" y2="90.3125" stroke="#000" stroke-width="1.4"/>
<text x="57.6" y="93.61" font-size="8.9" text-anchor="end" transform="matrix(1 0 0 1.07 0 -6.55)">0.6</text>
<line x1="60.8" y1="73.25" x2="64" y2="73.25" stroke="#000" stroke-width="1.4"/>
<text x="57.6" y="76.55" font-size="8.9" text-anchor="end" transform="matrix(1 0 0 1.07 0 -5.36)">0.8</text>
<line x1="60.8" y1="56.1875" x2="64" y2="56.1875" stroke="#000" stroke-width="1.4"/>
<text x="57.6" y="59.49" font-size="8.9" text-anchor="end" transform="matrix(1 0 0 1.07 0 -4.16)">1.0</text>
<line x1="60.8" y1="39.124999999999986" x2="64" y2="39.124999999999986" stroke="#000" stroke-width="1.4"/>
<text x="57.6" y="42.42" font-size="8.9" text-anchor="end" transform="matrix(1 0 0 1.07 0 -2.97)">1.2</text>
<line x1="60.8" y1="22.062499999999986" x2="64" y2="22.062499999999986" stroke="#000" stroke-width="1.4"/>
<text x="57.6" y="25.36" font-size="8.9" text-anchor="end" transform="matrix(1 0 0 1.07 0 -1.78)">1.4</text>
<line x1="60.8" y1="5.0" x2="64" y2="5.0" stroke="#000" stroke-width="1.4"/>
<text x="57.6" y="8.3" font-size="8.9" text-anchor="end" transform="matrix(1 0 0 1.07 0 -0.58)">1.6</text>
<text transform="translate(28.0,71) rotate(-90)" font-size="9.2" text-anchor="middle">Tumor Burden</text>
<text transform="translate(38.4,71.6) rotate(-90)" font-size="9.1" text-anchor="middle">(Fraction of persisting WBCs)</text>
<line x1="64" y1="141.5" x2="278.6" y2="141.5" stroke="#000" stroke-width="1.4"/>
<line x1="64.3" y1="141.5" x2="64.3" y2="145.0" stroke="#000" stroke-width="1.4"/>
<line x1="89.83" y1="141.5" x2="89.83" y2="145.0" stroke="#000" stroke-width="1.4"/>
<line x1="115.36" y1="141.5" x2="115.36" y2="145.0" stroke="#000" stroke-width="1.4"/>
<line x1="140.89" y1="141.5" x2="140.89" y2="145.0" stroke="#000" stroke-width="1.4"/>
<line x1="166.42000000000002" y1="141.5" x2="166.42000000000002" y2="145.0" stroke="#000" stroke-width="1.4"/>
<line x1="191.95" y1="141.5" x2="191.95" y2="145.0" stroke="#000" stroke-width="1.4"/>
<line x1="217.48000000000002" y1="141.5" x2="217.48000000000002" y2="145.0" stroke="#000" stroke-width="1.4"/>
<line x1="243.01" y1="141.5" x2="243.01" y2="145.0" stroke="#000" stroke-width="1.4"/>
<line x1="268.54" y1="141.5" x2="268.54" y2="145.0" stroke="#000" stroke-width="1.4"/>
<text x="1" y="152.8" font-size="9.3" transform="matrix(1 0 0 1.12 0 -18.34)">Doxycyline</text>
<text x="1" y="164.2" font-size="9.3" transform="matrix(1 0 0 1.12 0 -19.70)">Duration (hrs)</text>
<text x="55.6" y="180.5" font-size="9.3" text-anchor="end" transform="matrix(1 0 0 1.12 0 -21.66)"># of mice</text>
<text x="64.3" y="163.9" font-size="8.9" text-anchor="middle" transform="matrix(1 0 0 1.07 0 -11.47)">0</text>
<text x="64.3" y="180.8" font-size="8.9" text-anchor="middle" transform="matrix(1 0 0 1.07 0 -12.66)">8</text>
<text x="89.83" y="163.9" font-size="8.9" text-anchor="middle" transform="matrix(1 0 0 1.07 0 -11.47)">12</text>
<text x="89.83" y="180.8" font-size="8.9" text-anchor="middle" transform="matrix(1 0 0 1.07 0 -12.66)">2</text>
<text x="115.36" y="163.9" font-size="8.9" text-anchor="middle" transform="matrix(1 0 0 1.07 0 -11.47)">24</text>
<text x="115.36" y="180.8" font-size="8.9" text-anchor="middle" transform="matrix(1 0 0 1.07 0 -12.66)">1</text>
<text x="140.89" y="163.9" font-size="8.9" text-anchor="middle" transform="matrix(1 0 0 1.07 0 -11.47)">36</text>
<text x="140.89" y="180.8" font-size="8.9" text-anchor="middle" transform="matrix(1 0 0 1.07 0 -12.66)">2</text>
<text x="166.42" y="163.9" font-size="8.9" text-anchor="middle" transform="matrix(1 0 0 1.07 0 -11.47)">48</text>
<text x="166.42" y="180.8" font-size="8.9" text-anchor="middle" transform="matrix(1 0 0 1.07 0 -12.66)">8</text>
<text x="191.95" y="163.9" font-size="8.9" text-anchor="middle" transform="matrix(1 0 0 1.07 0 -11.47)">60</text>
<text x="191.95" y="180.8" font-size="8.9" text-anchor="middle" transform="matrix(1 0 0 1.07 0 -12.66)">5</text>
<text x="217.48" y="163.9" font-size="8.9" text-anchor="middle" transform="matrix(1 0 0 1.07 0 -11.47)">72</text>
<text x="217.48" y="180.8" font-size="8.9" text-anchor="middle" transform="matrix(1 0 0 1.07 0 -12.66)">8</text>
<text x="243.01" y="163.9" font-size="8.9" text-anchor="middle" transform="matrix(1 0 0 1.07 0 -11.47)">84</text>
<text x="243.01" y="180.8" font-size="8.9" text-anchor="middle" transform="matrix(1 0 0 1.07 0 -12.66)">4</text>
<text x="268.54" y="163.9" font-size="8.9" text-anchor="middle" transform="matrix(1 0 0 1.07 0 -11.47)">96</text>
<text x="268.54" y="180.8" font-size="8.9" text-anchor="middle" transform="matrix(1 0 0 1.07 0 -12.66)">6</text>
<polyline fill="none" stroke="#000" stroke-width="1.4" points="64.5,55.5 89.9,33.9 115.6,53.2 141.2,33.8 166.8,57.0 192.0,70.0 218.0,103.7 243.0,108.6 268.5,129.2"/>
<path d="M61.9,55.5L64.5,52.9L67.1,55.5L64.5,58.1Z" fill="#000"/>
<line x1="89.9" y1="25.6" x2="89.9" y2="40.4" stroke="#000" stroke-width="1.4"/>
<line x1="87.9" y1="25.6" x2="91.9" y2="25.6" stroke="#000" stroke-width="1.4"/>
<line x1="87.9" y1="40.4" x2="91.9" y2="40.4" stroke="#000" stroke-width="1.4"/>
<path d="M87.30000000000001,33.9L89.9,31.299999999999997L92.5,33.9L89.9,36.5Z" fill="#000"/>
<path d="M113.0,53.2L115.6,50.6L118.19999999999999,53.2L115.6,55.800000000000004Z" fill="#000"/>
<line x1="141.2" y1="16.3" x2="141.2" y2="52.0" stroke="#000" stroke-width="1.4"/>
<line x1="139.2" y1="16.3" x2="143.2" y2="16.3" stroke="#000" stroke-width="1.4"/>
<line x1="139.2" y1="52.0" x2="143.2" y2="52.0" stroke="#000" stroke-width="1.4"/>
<path d="M138.6,33.8L141.2,31.199999999999996L143.79999999999998,33.8L141.2,36.4Z" fill="#000"/>
<line x1="166.8" y1="49.5" x2="166.8" y2="65.7" stroke="#000" stroke-width="1.4"/>
<line x1="164.8" y1="49.5" x2="168.8" y2="49.5" stroke="#000" stroke-width="1.4"/>
<line x1="164.8" y1="65.7" x2="168.8" y2="65.7" stroke="#000" stroke-width="1.4"/>
<path d="M164.20000000000002,57.0L166.8,54.4L169.4,57.0L166.8,59.6Z" fill="#000"/>
<line x1="192.0" y1="67.5" x2="192.0" y2="72.5" stroke="#000" stroke-width="1.4"/>
<line x1="190.0" y1="67.5" x2="194.0" y2="67.5" stroke="#000" stroke-width="1.4"/>
<line x1="190.0" y1="72.5" x2="194.0" y2="72.5" stroke="#000" stroke-width="1.4"/>
<path d="M189.4,70.0L192.0,67.4L194.6,70.0L192.0,72.6Z" fill="#000"/>
<line x1="218.0" y1="99.0" x2="218.0" y2="109.2" stroke="#000" stroke-width="1.4"/>
<line x1="216.0" y1="99.0" x2="220.0" y2="99.0" stroke="#000" stroke-width="1.4"/>
<line x1="216.0" y1="109.2" x2="220.0" y2="109.2" stroke="#000" stroke-width="1.4"/>
<path d="M215.4,103.7L218.0,101.10000000000001L220.6,103.7L218.0,106.3Z" fill="#000"/>
<line x1="243.0" y1="98.5" x2="243.0" y2="119.4" stroke="#000" stroke-width="1.4"/>
<line x1="241.0" y1="98.5" x2="245.0" y2="98.5" stroke="#000" stroke-width="1.4"/>
<line x1="241.0" y1="119.4" x2="245.0" y2="119.4" stroke="#000" stroke-width="1.4"/>
<path d="M240.4,108.6L243.0,106.0L245.6,108.6L243.0,111.19999999999999Z" fill="#000"/>
<line x1="268.5" y1="125.5" x2="268.5" y2="133.0" stroke="#000" stroke-width="1.4"/>
<line x1="266.5" y1="125.5" x2="270.5" y2="125.5" stroke="#000" stroke-width="1.4"/>
<line x1="266.5" y1="133.0" x2="270.5" y2="133.0" stroke="#000" stroke-width="1.4"/>
<path d="M265.9,129.2L268.5,126.6L271.1,129.2L268.5,131.79999999999998Z" fill="#000"/>
<text x="0.6" y="212.6" font-size="18" transform="matrix(1 0 0 1.0 0 -0.00)" font-weight="bold">B</text>
<line x1="58" y1="202.7" x2="58" y2="275.7" stroke="#000" stroke-width="1.4"/>
<line x1="54.5" y1="275.7" x2="58" y2="275.7" stroke="#000" stroke-width="1.4"/>
<text x="51" y="279.0" font-size="8.9" text-anchor="end" transform="matrix(1 0 0 1.07 0 -19.53)">0</text>
<line x1="54.5" y1="261.2" x2="58" y2="261.2" stroke="#000" stroke-width="1.4"/>
<text x="51" y="264.5" font-size="8.9" text-anchor="end" transform="matrix(1 0 0 1.07 0 -18.52)">0.2</text>
<line x1="54.5" y1="246.7" x2="58" y2="246.7" stroke="#000" stroke-width="1.4"/>
<text x="51" y="250.0" font-size="8.9" text-anchor="end" transform="matrix(1 0 0 1.07 0 -17.50)">0.4</text>
<line x1="54.5" y1="232.2" x2="58" y2="232.2" stroke="#000" stroke-width="1.4"/>
<text x="51" y="235.5" font-size="8.9" text-anchor="end" transform="matrix(1 0 0 1.07 0 -16.49)">0.6</text>
<line x1="54.5" y1="217.7" x2="58" y2="217.7" stroke="#000" stroke-width="1.4"/>
<text x="51" y="221.0" font-size="8.9" text-anchor="end" transform="matrix(1 0 0 1.07 0 -15.47)">0.8</text>
<line x1="54.5" y1="203.2" x2="58" y2="203.2" stroke="#000" stroke-width="1.4"/>
<text x="51" y="206.5" font-size="8.9" text-anchor="end" transform="matrix(1 0 0 1.07 0 -14.46)">1.0</text>
<rect x="65.5" y="203.2" width="13.3" height="72.5" fill="#000"/>
<line x1="58" y1="275.7" x2="271.28" y2="275.7" stroke="#000" stroke-width="1.4"/>
<line x1="58.0" y1="275.7" x2="58.0" y2="279.7" stroke="#000" stroke-width="1.2"/>
<line x1="84.66" y1="275.7" x2="84.66" y2="279.7" stroke="#000" stroke-width="1.2"/>
<line x1="111.32" y1="275.7" x2="111.32" y2="279.7" stroke="#000" stroke-width="1.2"/>
<line x1="137.98000000000002" y1="275.7" x2="137.98000000000002" y2="279.7" stroke="#000" stroke-width="1.2"/>
<line x1="164.64" y1="275.7" x2="164.64" y2="279.7" stroke="#000" stroke-width="1.2"/>
<line x1="191.3" y1="275.7" x2="191.3" y2="279.7" stroke="#000" stroke-width="1.2"/>
<line x1="217.96" y1="275.7" x2="217.96" y2="279.7" stroke="#000" stroke-width="1.2"/>
<line x1="244.62" y1="275.7" x2="244.62" y2="279.7" stroke="#000" stroke-width="1.2"/>
<line x1="271.28" y1="275.7" x2="271.28" y2="279.7" stroke="#000" stroke-width="1.2"/>
<text x="71.33" y="288.8" font-size="8.9" text-anchor="middle" transform="matrix(1 0 0 1.07 0 -20.22)">0</text>
<text x="97.99" y="288.8" font-size="8.9" text-anchor="middle" transform="matrix(1 0 0 1.07 0 -20.22)">12</text>
<text x="124.65" y="288.8" font-size="8.9" text-anchor="middle" transform="matrix(1 0 0 1.07 0 -20.22)">24</text>
<text x="151.31" y="288.8" font-size="8.9" text-anchor="middle" transform="matrix(1 0 0 1.07 0 -20.22)">48</text>
<text x="177.97" y="288.8" font-size="8.9" text-anchor="middle" transform="matrix(1 0 0 1.07 0 -20.22)">60</text>
<text x="204.63" y="288.8" font-size="8.9" text-anchor="middle" transform="matrix(1 0 0 1.07 0 -20.22)">72</text>
<text x="231.29" y="288.8" font-size="8.9" text-anchor="middle" transform="matrix(1 0 0 1.07 0 -20.22)">84</text>
<text x="257.95" y="288.8" font-size="8.9" text-anchor="middle" transform="matrix(1 0 0 1.07 0 -20.22)">96</text>
<text x="166.4" y="298.9" font-size="9.3" text-anchor="middle" transform="matrix(1 0 0 1.12 0 -35.87)">Doxycyline Treatment Duration (Hours)</text>
<text transform="translate(33.6,238.5) rotate(-90)" font-size="9.3" text-anchor="middle">NRAS<tspan font-size="6.0" font-style="italic" dy="-4.6">G12V</tspan><tspan dy="4.6"> mRNA</tspan></text>
<text x="0.8" y="331.6" font-size="18" transform="matrix(1 0 0 1.0 0 -0.00)" font-weight="bold">C</text>
<text x="84.5" y="325.5" font-size="8.6" text-anchor="middle" transform="matrix(1 0 0 1.07 0 -22.79)">0</text>
<text x="108" y="325.5" font-size="8.6" text-anchor="middle" transform="matrix(1 0 0 1.07 0 -22.79)">0</text>
<text x="132.5" y="325.5" font-size="8.6" text-anchor="middle" transform="matrix(1 0 0 1.07 0 -22.79)">24</text>
<text x="157.5" y="325.5" font-size="8.6" text-anchor="middle" transform="matrix(1 0 0 1.07 0 -22.79)">48</text>
<text x="181.3" y="325.5" font-size="8.6" text-anchor="middle" transform="matrix(1 0 0 1.07 0 -22.79)">48</text>
<text x="203.5" y="325.5" font-size="8.6" text-anchor="middle" transform="matrix(1 0 0 1.07 0 -22.79)">60</text>
<text x="228.8" y="325.5" font-size="8.6" text-anchor="middle" transform="matrix(1 0 0 1.07 0 -22.79)">60</text>
<text x="251.2" y="325.5" font-size="8.6" text-anchor="middle" transform="matrix(1 0 0 1.07 0 -22.79)">72</text>
<text x="17" y="340.3" font-size="9.2">NRAS<tspan font-size="6.7" font-style="italic" dy="-3.6">G12V</tspan></text>
<text x="58.3" y="361" font-size="9.2" text-anchor="end" transform="matrix(1 0 0 1.12 0 -43.32)">GAPDH</text>
<text x="163.0" y="376.0" font-size="9.3" text-anchor="middle" transform="matrix(1 0 0 1.12 0 -45.12)">Doxycyline Treatment Duration (Hours)</text>
<defs><filter id="bl" x="-50%" y="-100%" width="200%" height="300%"><feGaussianBlur stdDeviation="1.6 0.85"/></filter><filter id="bl2" x="-20%" y="-20%" width="140%" height="140%"><feGaussianBlur stdDeviation="0.6"/></filter></defs>
<rect x="62.3" y="329" width="201.7" height="17.8" fill="#a0a0a0"/>
<rect x="62.3" y="329" width="201.7" height="3" fill="#9a9a9a" filter="url(#bl2)"/>
<rect x="62.3" y="350.4" width="201.7" height="15.6" fill="#a0a0a0"/>
<rect x="75.0" y="335.5" width="20.200000000000003" height="3.4000000000000004" rx="5.300000000000001" ry="1.7000000000000002" fill="#111" fill-opacity="0.8" filter="url(#bl)"/>
<rect x="98.1" y="334.8" width="20.10000000000001" height="4.8" rx="5.275000000000002" ry="2.4" fill="#111" fill-opacity="1.0" filter="url(#bl)"/>
<rect x="123.1" y="335.5" width="17.200000000000017" height="3.4000000000000004" rx="4.550000000000004" ry="1.7000000000000002" fill="#111" fill-opacity="0.55" filter="url(#bl)"/>
<rect x="150.0" y="335.6" width="15.5" height="3.2" rx="4.125" ry="1.6" fill="#111" fill-opacity="0.35" filter="url(#bl)"/>
<rect x="173.5" y="335.8" width="14" height="2.8" rx="3.75" ry="1.4" fill="#111" fill-opacity="0.12" filter="url(#bl)"/>
<rect x="196.5" y="335.8" width="12.5" height="2.8" rx="3.375" ry="1.4" fill="#111" fill-opacity="0.15" filter="url(#bl)"/>
<rect x="71.6" y="356.9" width="27.900000000000006" height="6.0" rx="6.475000000000001" ry="3.0" fill="#181818" fill-opacity="0.90" filter="url(#bl)"/>
<rect x="97.5" y="357.29999999999995" width="24.099999999999994" height="5.199999999999999" rx="5.524999999999999" ry="2.5999999999999996" fill="#181818" fill-opacity="0.85" filter="url(#bl)"/>
<rect x="122.5" y="357.49999999999994" width="23.19999999999999" height="4.8" rx="5.299999999999997" ry="2.4" fill="#181818" fill-opacity="0.81" filter="url(#bl)"/>
<rect x="146.6" y="357.09999999999997" width="21.900000000000006" height="5.6" rx="4.975000000000001" ry="2.8" fill="#181818" fill-opacity="0.85" filter="url(#bl)"/>
<rect x="170" y="357.49999999999994" width="21.30000000000001" height="4.8" rx="4.825000000000003" ry="2.4" fill="#181818" fill-opacity="0.81" filter="url(#bl)"/>
<rect x="192.3" y="357.09999999999997" width="23.19999999999999" height="5.6" rx="5.299999999999997" ry="2.8" fill="#181818" fill-opacity="0.90" filter="url(#bl)"/>
<rect x="216.6" y="357.59999999999997" width="20.200000000000017" height="4.6" rx="4.550000000000004" ry="2.3" fill="#181818" fill-opacity="0.77" filter="url(#bl)"/>
<rect x="238.8" y="357.29999999999995" width="24.19999999999999" height="5.199999999999999" rx="5.549999999999997" ry="2.5999999999999996" fill="#181818" fill-opacity="0.81" filter="url(#bl)"/>
<text x="0" y="405.9" font-size="18" transform="matrix(1 0 0 1.0 0 -0.00)" font-weight="bold">E</text>
<text x="26" y="400" font-size="9.2" transform="matrix(1 0 0 1.12 0 -48.00)">Transcriptional Programs Repressed by NRAS Withdrawal</text>
<rect x="17" y="407.1" width="258.4" height="129.2" fill="none" stroke="#111" stroke-width="1.5"/>
<text x="25.5" y="417.3" font-size="9.2" transform="matrix(1 0 0 1.12 0 -50.08)">Signal Transduction Effectors</text>
<line x1="25" y1="421.3" x2="145.5" y2="421.3" stroke="#000" stroke-width="1.3"/>
<text x="180.4" y="417.3" font-size="9.2" text-anchor="middle" transform="matrix(1 0 0 1.12 0 -50.08)">Z score</text>
<line x1="162" y1="421.3" x2="200.5" y2="421.3" stroke="#000" stroke-width="1.3"/>
<text x="245.4" y="417.3" font-size="9.2" text-anchor="middle" transform="matrix(1 0 0 1.12 0 -50.08)">p value</text>
<line x1="225" y1="421.3" x2="265" y2="421.3" stroke="#000" stroke-width="1.3"/>
<text x="39.0" y="432.7" font-size="9.2" transform="matrix(1 0 0 1.12 0 -51.92)">HRAS</text>
<text x="182.3" y="432.7" font-size="9.2" text-anchor="middle" transform="matrix(1 0 0 1.12 0 -51.92)">-2.960</text>
<text x="245.7" y="432.7" font-size="9.2" text-anchor="middle" transform="matrix(1 0 0 1.12 0 -51.92)">0.000</text>
<text x="39.0" y="443.7" font-size="9.2" transform="matrix(1 0 0 1.12 0 -53.24)">ERK1/2</text>
<text x="182.3" y="443.7" font-size="9.2" text-anchor="middle" transform="matrix(1 0 0 1.12 0 -53.24)">-2.382</text>
<text x="245.7" y="443.7" font-size="9.2" text-anchor="middle" transform="matrix(1 0 0 1.12 0 -53.24)">0.003</text>
<text x="39.0" y="454.8" font-size="9.2" transform="matrix(1 0 0 1.12 0 -54.58)">MEK</text>
<text x="182.3" y="454.8" font-size="9.2" text-anchor="middle" transform="matrix(1 0 0 1.12 0 -54.58)">-2.202</text>
<text x="245.7" y="454.8" font-size="9.2" text-anchor="middle" transform="matrix(1 0 0 1.12 0 -54.58)">0.001</text>
<text x="39.0" y="465.8" font-size="9.2" transform="matrix(1 0 0 1.12 0 -55.90)">PI3K</text>
<text x="182.3" y="465.8" font-size="9.2" text-anchor="middle" transform="matrix(1 0 0 1.12 0 -55.90)">-1.944</text>
<text x="245.7" y="465.8" font-size="9.2" text-anchor="middle" transform="matrix(1 0 0 1.12 0 -55.90)">0.019</text>
<text x="25.5" y="483.1" font-size="9.2" transform="matrix(1 0 0 1.12 0 -57.97)">Transcription Factors</text>
<line x1="25.5" y1="487.1" x2="111.7" y2="487.1" stroke="#000" stroke-width="1.3"/>
<text x="180.4" y="483.1" font-size="9.2" text-anchor="middle" transform="matrix(1 0 0 1.12 0 -57.97)">Z score</text>
<line x1="162" y1="487.1" x2="200.5" y2="487.1" stroke="#000" stroke-width="1.3"/>
<text x="245.4" y="483.1" font-size="9.2" text-anchor="middle" transform="matrix(1 0 0 1.12 0 -57.97)">p value</text>
<line x1="225" y1="487.1" x2="265" y2="487.1" stroke="#000" stroke-width="1.3"/>
<text x="39.0" y="499.0" font-size="9.2" transform="matrix(1 0 0 1.12 0 -59.88)">CTNNB1</text>
<text x="182.3" y="499.0" font-size="9.2" text-anchor="middle" transform="matrix(1 0 0 1.12 0 -59.88)">-1.998</text>
<text x="245.7" y="499.0" font-size="9.2" text-anchor="middle" transform="matrix(1 0 0 1.12 0 -59.88)">0.001</text>
<text x="39.0" y="509.9" font-size="9.2" transform="matrix(1 0 0 1.12 0 -61.19)">STAT5A</text>
<text x="182.3" y="509.9" font-size="9.2" text-anchor="middle" transform="matrix(1 0 0 1.12 0 -61.19)">-1.969</text>
<text x="245.7" y="509.9" font-size="9.2" text-anchor="middle" transform="matrix(1 0 0 1.12 0 -61.19)">0.008</text>
<text x="39.0" y="520.7" font-size="9.2" transform="matrix(1 0 0 1.12 0 -62.48)">HOXA9</text>
<text x="182.3" y="520.7" font-size="9.2" text-anchor="middle" transform="matrix(1 0 0 1.12 0 -62.48)">-1.718</text>
<text x="245.7" y="520.7" font-size="9.2" text-anchor="middle" transform="matrix(1 0 0 1.12 0 -62.48)">0.000</text>
<text x="39.0" y="531.7" font-size="9.2" transform="matrix(1 0 0 1.12 0 -63.80)">MYB</text>
<text x="182.3" y="531.7" font-size="9.2" text-anchor="middle" transform="matrix(1 0 0 1.12 0 -63.80)">-1.523</text>
<text x="245.7" y="531.7" font-size="9.2" text-anchor="middle" transform="matrix(1 0 0 1.12 0 -63.80)">0.000</text>
<text x="28.8" y="548.6" font-size="9.2" transform="matrix(1 0 0 1.12 0 -65.83)">Transcriptional Programs Mimicked by NRAS Withdrawal</text>
<rect x="17" y="552.3" width="258.5" height="77.9" fill="none" stroke="#111" stroke-width="1.5"/>
<text x="25" y="566.4" font-size="9.2" transform="matrix(1 0 0 1.12 0 -67.97)">Ras effector pathway inhibitors</text>
<line x1="24.8" y1="570.1" x2="152" y2="570.1" stroke="#000" stroke-width="1.3"/>
<text x="180.4" y="566.4" font-size="9.2" text-anchor="middle" transform="matrix(1 0 0 1.12 0 -67.97)">Z score</text>
<line x1="160.8" y1="570.1" x2="201.4" y2="570.1" stroke="#000" stroke-width="1.3"/>
<text x="245.4" y="566.4" font-size="9.2" text-anchor="middle" transform="matrix(1 0 0 1.12 0 -67.97)">p value</text>
<line x1="226" y1="570.1" x2="266" y2="570.1" stroke="#000" stroke-width="1.3"/>
<text x="39.0" y="581.6" font-size="9.2" transform="matrix(1 0 0 1.12 0 -69.79)">PD98059</text>
<text x="182.3" y="581.6" font-size="9.2" text-anchor="middle" transform="matrix(1 0 0 1.12 0 -69.79)">3.133</text>
<text x="245.7" y="581.6" font-size="9.2" text-anchor="middle" transform="matrix(1 0 0 1.12 0 -69.79)">0.000</text>
<text x="39.0" y="593.0" font-size="9.2" transform="matrix(1 0 0 1.12 0 -71.16)">LY294002</text>
<text x="182.3" y="593.0" font-size="9.2" text-anchor="middle" transform="matrix(1 0 0 1.12 0 -71.16)">1.856</text>
<text x="245.7" y="593.0" font-size="9.2" text-anchor="middle" transform="matrix(1 0 0 1.12 0 -71.16)">0.002</text>
<text x="25" y="607.4" font-size="9.2" transform="matrix(1 0 0 1.12 0 -72.89)">Transcription Factors</text>
<line x1="24.8" y1="612.4" x2="111" y2="612.4" stroke="#000" stroke-width="1.3"/>
<text x="180.4" y="607.4" font-size="9.2" text-anchor="middle" transform="matrix(1 0 0 1.12 0 -72.89)">Z score</text>
<line x1="160.8" y1="612.4" x2="201.4" y2="612.4" stroke="#000" stroke-width="1.3"/>
<text x="245.4" y="607.4" font-size="9.2" text-anchor="middle" transform="matrix(1 0 0 1.12 0 -72.89)">p value</text>
<line x1="226" y1="612.4" x2="266" y2="612.4" stroke="#000" stroke-width="1.3"/>
<text x="39.0" y="623.8" font-size="9.2" transform="matrix(1 0 0 1.12 0 -74.86)">GATA1</text>
<text x="182.3" y="623.8" font-size="9.2" text-anchor="middle" transform="matrix(1 0 0 1.12 0 -74.86)">1.673</text>
<text x="245.7" y="623.8" font-size="9.2" text-anchor="middle" transform="matrix(1 0 0 1.12 0 -74.86)">0.000</text>
<text x="288.6" y="13.9" font-size="18" transform="matrix(1 0 0 1.0 0 -0.00)" font-weight="bold">D</text>
<text x="387.0" y="8.7" font-size="9.2" text-anchor="middle" transform="matrix(1 0 0 1.12 0 -1.04)">Microarray</text>
<line x1="305" y1="14.5" x2="461.5" y2="14.5" stroke="#000" stroke-width="1.5"/>
<text x="367" y="29" font-size="9.2" font-style="italic">NRAS<tspan font-size="6.4" dy="-3.6">G12V</tspan></text>
<text x="329.2" y="39" font-size="9" text-anchor="middle" transform="matrix(1 0 0 1.12 0 -4.68)">on</text>
<text x="408.3" y="39" font-size="9" text-anchor="middle" transform="matrix(1 0 0 1.12 0 -4.68)">off</text>
<line x1="305" y1="42" x2="353.4" y2="42" stroke="#000" stroke-width="1.5"/>
<line x1="356.6" y1="42" x2="461.5" y2="42" stroke="#000" stroke-width="1.5"/>
<text x="329.5" y="53" font-size="8.2" text-anchor="middle" transform="matrix(1 0 0 1.07 0 -3.71)">0</text>
<text x="364.2" y="53" font-size="8.2" text-anchor="middle" transform="matrix(1 0 0 1.07 0 -3.71)">48</text>
<text x="386.2" y="53" font-size="8.2" text-anchor="middle" transform="matrix(1 0 0 1.07 0 -3.71)">60</text>
<text x="408.3" y="53" font-size="8.2" text-anchor="middle" transform="matrix(1 0 0 1.07 0 -3.71)">72</text>
<text x="429.8" y="53" font-size="8.2" text-anchor="middle" transform="matrix(1 0 0 1.07 0 -3.71)">84</text>
<text x="452.2" y="53" font-size="8.2" text-anchor="middle" transform="matrix(1 0 0 1.07 0 -3.71)">96</text>
<line x1="307.2" y1="56.6" x2="351.5" y2="56.6" stroke="#000" stroke-width="1.5"/>
<line x1="356.2" y1="56.6" x2="373.5" y2="56.6" stroke="#000" stroke-width="1.5"/>
<line x1="378.8" y1="56.6" x2="395.5" y2="56.6" stroke="#000" stroke-width="1.5"/>
<line x1="400.2" y1="56.6" x2="417.2" y2="56.6" stroke="#000" stroke-width="1.5"/>
<line x1="421.7" y1="56.6" x2="438.7" y2="56.6" stroke="#000" stroke-width="1.5"/>
<line x1="443.3" y1="56.6" x2="460.8" y2="56.6" stroke="#000" stroke-width="1.5"/>
<text x="493.7" y="9.2" font-size="9" text-anchor="middle" transform="matrix(1 0 0 1.12 0 -1.10)">RNAseq</text>
<line x1="472.7" y1="14.4" x2="514.4" y2="14.4" stroke="#000" stroke-width="1.5"/>
<text x="477" y="28.3" font-size="9.2" font-style="italic">NRAS<tspan font-size="6.4" dy="-3.6">G12V</tspan></text>
<text x="477.6" y="38.7" font-size="9" text-anchor="middle" transform="matrix(1 0 0 1.12 0 -4.64)">on</text>
<text x="498.9" y="38.7" font-size="9" text-anchor="middle" transform="matrix(1 0 0 1.12 0 -4.64)">off</text>
<line x1="472.7" y1="41.8" x2="480.8" y2="41.8" stroke="#000" stroke-width="1.5"/>
<line x1="484.8" y1="41.8" x2="514.2" y2="41.8" stroke="#000" stroke-width="1.5"/>
<text x="476.9" y="52.5" font-size="8.0" text-anchor="middle" transform="matrix(1 0 0 1.07 0 -3.68)">0</text>
<text x="487.0" y="52.5" font-size="8.0" text-anchor="middle" transform="matrix(1 0 0 1.07 0 -3.68)">48</text>
<text x="498.7" y="52.5" font-size="8.0" text-anchor="middle" transform="matrix(1 0 0 1.07 0 -3.68)">72</text>
<text x="509.6" y="52.5" font-size="8.0" text-anchor="middle" transform="matrix(1 0 0 1.07 0 -3.68)">96</text>
<line x1="473.1" y1="57.0" x2="480.2" y2="57.0" stroke="#000" stroke-width="1.7"/>
<line x1="484.2" y1="57.0" x2="491.7" y2="57.0" stroke="#000" stroke-width="1.7"/>
<line x1="495.2" y1="57.0" x2="502.7" y2="57.0" stroke="#000" stroke-width="1.7"/>
<line x1="506.7" y1="57.0" x2="513.8" y2="57.0" stroke="#000" stroke-width="1.7"/>
<rect x="355.80" y="622.8" width="16.11" height="7.4" fill="#1ba3d6"/>
<rect x="371.61" y="622.8" width="16.11" height="7.4" fill="#16709a"/>
<rect x="387.43" y="622.8" width="16.11" height="7.4" fill="#143a50"/>
<rect x="403.24" y="622.8" width="16.11" height="7.4" fill="#0c0c0c"/>
<rect x="419.06" y="622.8" width="16.11" height="7.4" fill="#4e4e1e"/>
<rect x="434.87" y="622.8" width="16.11" height="7.4" fill="#a0a030"/>
<rect x="450.69" y="622.8" width="16.11" height="7.4" fill="#ece41c"/>
<text x="363.71" y="618.3" font-size="8.4" text-anchor="middle" transform="matrix(1 0 0 1.07 0 -43.28)">-3</text>
<text x="379.52" y="618.3" font-size="8.4" text-anchor="middle" transform="matrix(1 0 0 1.07 0 -43.28)">-2</text>
<text x="395.34" y="618.3" font-size="8.4" text-anchor="middle" transform="matrix(1 0 0 1.07 0 -43.28)">-1</text>
<text x="411.15" y="618.3" font-size="8.4" text-anchor="middle" transform="matrix(1 0 0 1.07 0 -43.28)">0</text>
<text x="426.96" y="618.3" font-size="8.4" text-anchor="middle" transform="matrix(1 0 0 1.07 0 -43.28)">1</text>
<text x="442.78" y="618.3" font-size="8.4" text-anchor="middle" transform="matrix(1 0 0 1.07 0 -43.28)">2</text>
<text x="458.59" y="618.3" font-size="8.4" text-anchor="middle" transform="matrix(1 0 0 1.07 0 -43.28)">3</text>
</svg>
</body></html>
